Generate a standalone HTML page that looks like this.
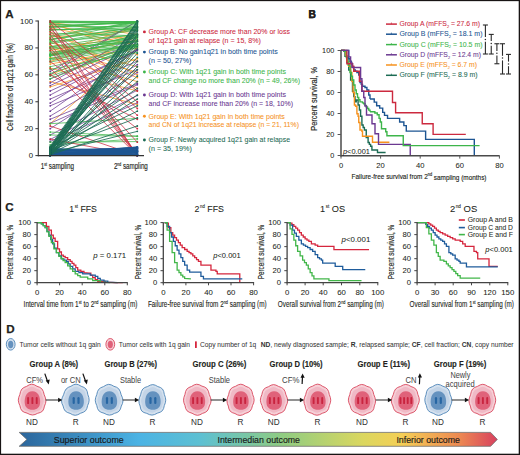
<!DOCTYPE html>
<html><head><meta charset="utf-8"><style>html,body{margin:0;padding:0;background:#fff;width:520px;height:455px;overflow:hidden}svg{display:block}</style></head>
<body><svg width="520" height="455" viewBox="0 0 520 455" font-family="Liberation Sans, sans-serif">
<rect width="520" height="455" fill="#fff"/>
<rect x="0" y="0" width="520" height="1.15" fill="#181414"/><rect x="0" y="0" width="1.1" height="455" fill="#181414"/><rect x="518.7" y="0" width="1.3" height="455" fill="#181414"/><rect x="0" y="453.7" width="520" height="1.3" fill="#181414"/><text x="5.2" y="17.8" font-size="11.6" fill="#231f20" text-anchor="start" font-weight="bold" stroke="#231f20" stroke-width="0.25">A</text><line x1="50.2" y1="42.54" x2="137.3" y2="66.76" stroke="#f6921e" stroke-width="0.75"/><line x1="50.2" y1="57.34" x2="137.3" y2="81.57" stroke="#f6921e" stroke-width="0.75"/><line x1="50.2" y1="64.07" x2="137.3" y2="47.92" stroke="#f6921e" stroke-width="0.75"/><line x1="50.2" y1="81.57" x2="137.3" y2="104.45" stroke="#f6921e" stroke-width="0.75"/><line x1="50.2" y1="86.95" x2="137.3" y2="58.69" stroke="#f6921e" stroke-width="0.75"/><line x1="50.2" y1="123.7" x2="137.3" y2="47.92" stroke="#f6921e" stroke-width="0.75"/><line x1="50.2" y1="27.73" x2="137.3" y2="45.23" stroke="#f6921e" stroke-width="0.75"/><line x1="50.2" y1="34.46" x2="137.3" y2="61.38" stroke="#f6921e" stroke-width="0.75"/><line x1="50.2" y1="37.15" x2="137.3" y2="30.42" stroke="#f6921e" stroke-width="0.75"/><line x1="50.2" y1="47.92" x2="137.3" y2="72.15" stroke="#f6921e" stroke-width="0.75"/><line x1="50.2" y1="50.61" x2="137.3" y2="34.46" stroke="#f6921e" stroke-width="0.75"/><line x1="50.2" y1="25.04" x2="137.3" y2="41.19" stroke="#f6921e" stroke-width="0.75"/><line x1="50.2" y1="68.11" x2="137.3" y2="90.99" stroke="#f6921e" stroke-width="0.75"/><line x1="50.2" y1="74.84" x2="137.3" y2="39.84" stroke="#f6921e" stroke-width="0.75"/><line x1="50.2" y1="31.77" x2="137.3" y2="74.84" stroke="#f6921e" stroke-width="0.75"/><line x1="50.2" y1="54.65" x2="137.3" y2="26.38" stroke="#f6921e" stroke-width="0.75"/><line x1="50.2" y1="39.84" x2="137.3" y2="88.3" stroke="#f6921e" stroke-width="0.75"/><line x1="50.2" y1="61.38" x2="137.3" y2="37.15" stroke="#f6921e" stroke-width="0.75"/><line x1="50.2" y1="22.35" x2="137.3" y2="54.65" stroke="#f6921e" stroke-width="0.75"/><line x1="50.2" y1="45.23" x2="137.3" y2="77.53" stroke="#f6921e" stroke-width="0.75"/><line x1="50.2" y1="22.35" x2="137.3" y2="34.46" stroke="#f6921e" stroke-width="0.75"/><line x1="50.2" y1="71.47" x2="137.3" y2="21.0" stroke="#6b3891" stroke-width="0.75"/><line x1="50.2" y1="78.88" x2="137.3" y2="41.31" stroke="#6b3891" stroke-width="0.75"/><line x1="50.2" y1="82.92" x2="137.3" y2="34.05" stroke="#6b3891" stroke-width="0.75"/><line x1="50.2" y1="95.03" x2="137.3" y2="49.48" stroke="#6b3891" stroke-width="0.75"/><line x1="50.2" y1="99.07" x2="137.3" y2="61.12" stroke="#6b3891" stroke-width="0.75"/><line x1="50.2" y1="103.11" x2="137.3" y2="49.13" stroke="#6b3891" stroke-width="0.75"/><line x1="50.2" y1="105.8" x2="137.3" y2="69.62" stroke="#6b3891" stroke-width="0.75"/><line x1="50.2" y1="116.03" x2="137.3" y2="64.66" stroke="#6b3891" stroke-width="0.75"/><line x1="50.2" y1="119.26" x2="137.3" y2="83.5" stroke="#6b3891" stroke-width="0.75"/><line x1="50.2" y1="135.01" x2="137.3" y2="90.24" stroke="#6b3891" stroke-width="0.75"/><line x1="50.2" y1="141.47" x2="137.3" y2="102.86" stroke="#6b3891" stroke-width="0.75"/><line x1="50.2" y1="90.99" x2="137.3" y2="50.7" stroke="#6b3891" stroke-width="0.75"/><line x1="50.2" y1="111.18" x2="137.3" y2="50.13" stroke="#6b3891" stroke-width="0.75"/><line x1="50.2" y1="128.68" x2="137.3" y2="72.59" stroke="#6b3891" stroke-width="0.75"/><line x1="50.2" y1="85.61" x2="137.3" y2="44.3" stroke="#6b3891" stroke-width="0.75"/><line x1="50.2" y1="74.84" x2="137.3" y2="21.0" stroke="#6b3891" stroke-width="0.75"/><line x1="50.2" y1="123.3" x2="137.3" y2="84.75" stroke="#6b3891" stroke-width="0.75"/><line x1="50.2" y1="139.45" x2="137.3" y2="95.47" stroke="#6b3891" stroke-width="0.75"/><line x1="50.2" y1="21.0" x2="137.3" y2="22.57" stroke="#3db54a" stroke-width="0.75"/><line x1="50.2" y1="30.42" x2="137.3" y2="24.79" stroke="#3db54a" stroke-width="0.75"/><line x1="50.2" y1="39.84" x2="137.3" y2="22.16" stroke="#3db54a" stroke-width="0.75"/><line x1="50.2" y1="46.57" x2="137.3" y2="33.83" stroke="#3db54a" stroke-width="0.75"/><line x1="50.2" y1="54.65" x2="137.3" y2="36.67" stroke="#3db54a" stroke-width="0.75"/><line x1="50.2" y1="58.69" x2="137.3" y2="36.99" stroke="#3db54a" stroke-width="0.75"/><line x1="50.2" y1="62.05" x2="137.3" y2="46.09" stroke="#3db54a" stroke-width="0.75"/><line x1="50.2" y1="73.49" x2="137.3" y2="45.07" stroke="#3db54a" stroke-width="0.75"/><line x1="50.2" y1="78.88" x2="137.3" y2="45.27" stroke="#3db54a" stroke-width="0.75"/><line x1="50.2" y1="123.7" x2="137.3" y2="118.41" stroke="#3db54a" stroke-width="0.75"/><line x1="50.2" y1="132.04" x2="137.3" y2="136.16" stroke="#3db54a" stroke-width="0.75"/><line x1="50.2" y1="135.01" x2="137.3" y2="136.31" stroke="#3db54a" stroke-width="0.75"/><line x1="50.2" y1="23.69" x2="137.3" y2="30.6" stroke="#3db54a" stroke-width="0.75"/><line x1="50.2" y1="26.38" x2="137.3" y2="21.67" stroke="#3db54a" stroke-width="0.75"/><line x1="50.2" y1="27.73" x2="137.3" y2="21.67" stroke="#3db54a" stroke-width="0.75"/><line x1="50.2" y1="33.11" x2="137.3" y2="35.76" stroke="#3db54a" stroke-width="0.75"/><line x1="50.2" y1="35.81" x2="137.3" y2="21.67" stroke="#3db54a" stroke-width="0.75"/><line x1="50.2" y1="37.15" x2="137.3" y2="21.67" stroke="#3db54a" stroke-width="0.75"/><line x1="50.2" y1="42.54" x2="137.3" y2="28.46" stroke="#3db54a" stroke-width="0.75"/><line x1="50.2" y1="43.88" x2="137.3" y2="29.79" stroke="#3db54a" stroke-width="0.75"/><line x1="50.2" y1="49.27" x2="137.3" y2="40.85" stroke="#3db54a" stroke-width="0.75"/><line x1="50.2" y1="51.96" x2="137.3" y2="44.74" stroke="#3db54a" stroke-width="0.75"/><line x1="50.2" y1="53.3" x2="137.3" y2="35.67" stroke="#3db54a" stroke-width="0.75"/><line x1="50.2" y1="56.0" x2="137.3" y2="45.72" stroke="#3db54a" stroke-width="0.75"/><line x1="50.2" y1="60.03" x2="137.3" y2="45.08" stroke="#3db54a" stroke-width="0.75"/><line x1="50.2" y1="66.76" x2="137.3" y2="47.13" stroke="#3db54a" stroke-width="0.75"/><line x1="50.2" y1="69.46" x2="137.3" y2="52.33" stroke="#3db54a" stroke-width="0.75"/><line x1="50.2" y1="76.19" x2="137.3" y2="47.19" stroke="#3db54a" stroke-width="0.75"/><line x1="50.2" y1="142.14" x2="137.3" y2="141.59" stroke="#3db54a" stroke-width="0.75"/><line x1="50.2" y1="144.83" x2="137.3" y2="138.88" stroke="#3db54a" stroke-width="0.75"/><line x1="50.2" y1="39.12" x2="137.3" y2="27.18" stroke="#3db54a" stroke-width="0.75"/><line x1="50.2" y1="39.85" x2="137.3" y2="27.1" stroke="#3db54a" stroke-width="0.75"/><line x1="50.2" y1="41.45" x2="137.3" y2="35.06" stroke="#3db54a" stroke-width="0.75"/><line x1="50.2" y1="21.09" x2="137.3" y2="21.67" stroke="#3db54a" stroke-width="0.75"/><line x1="50.2" y1="27.02" x2="137.3" y2="21.67" stroke="#3db54a" stroke-width="0.75"/><line x1="50.2" y1="46.81" x2="137.3" y2="38.38" stroke="#3db54a" stroke-width="0.75"/><line x1="50.2" y1="47.79" x2="137.3" y2="41.83" stroke="#3db54a" stroke-width="0.75"/><line x1="50.2" y1="29.81" x2="137.3" y2="27.51" stroke="#3db54a" stroke-width="0.75"/><line x1="50.2" y1="26.78" x2="137.3" y2="26.41" stroke="#3db54a" stroke-width="0.75"/><line x1="50.2" y1="22.58" x2="137.3" y2="21.67" stroke="#3db54a" stroke-width="0.75"/><line x1="50.2" y1="58.67" x2="137.3" y2="44.09" stroke="#3db54a" stroke-width="0.75"/><line x1="50.2" y1="24.38" x2="137.3" y2="23.76" stroke="#3db54a" stroke-width="0.75"/><line x1="50.2" y1="21.74" x2="137.3" y2="23.94" stroke="#3db54a" stroke-width="0.75"/><line x1="50.2" y1="55.94" x2="137.3" y2="34.95" stroke="#3db54a" stroke-width="0.75"/><line x1="50.2" y1="29.35" x2="137.3" y2="29.77" stroke="#3db54a" stroke-width="0.75"/><line x1="50.2" y1="55.4" x2="137.3" y2="40.31" stroke="#3db54a" stroke-width="0.75"/><line x1="50.2" y1="22.35" x2="137.3" y2="21.67" stroke="#3db54a" stroke-width="0.75"/><line x1="50.2" y1="54.24" x2="137.3" y2="41.41" stroke="#3db54a" stroke-width="0.75"/><line x1="50.2" y1="54.88" x2="137.3" y2="45.21" stroke="#3db54a" stroke-width="0.75"/><line x1="50.2" y1="22.35" x2="137.3" y2="155.6" stroke="#cc2a3f" stroke-width="0.75"/><line x1="50.2" y1="26.38" x2="137.3" y2="155.6" stroke="#cc2a3f" stroke-width="0.75"/><line x1="50.2" y1="34.46" x2="137.3" y2="155.6" stroke="#cc2a3f" stroke-width="0.75"/><line x1="50.2" y1="43.88" x2="137.3" y2="155.6" stroke="#cc2a3f" stroke-width="0.75"/><line x1="50.2" y1="50.61" x2="137.3" y2="155.6" stroke="#cc2a3f" stroke-width="0.75"/><line x1="50.2" y1="125.99" x2="137.3" y2="155.6" stroke="#cc2a3f" stroke-width="0.75"/><line x1="50.2" y1="139.04" x2="137.3" y2="155.6" stroke="#cc2a3f" stroke-width="0.75"/><line x1="50.2" y1="29.08" x2="137.3" y2="101.76" stroke="#cc2a3f" stroke-width="0.75"/><line x1="50.2" y1="38.5" x2="137.3" y2="115.22" stroke="#cc2a3f" stroke-width="0.75"/><line x1="50.2" y1="74.84" x2="137.3" y2="119.26" stroke="#cc2a3f" stroke-width="0.75"/><line x1="50.2" y1="31.77" x2="137.3" y2="108.49" stroke="#cc2a3f" stroke-width="0.75"/><line x1="50.2" y1="61.38" x2="137.3" y2="128.68" stroke="#cc2a3f" stroke-width="0.75"/><line x1="50.2" y1="21.0" x2="137.3" y2="90.99" stroke="#cc2a3f" stroke-width="0.75"/><line x1="50.2" y1="47.92" x2="137.3" y2="142.14" stroke="#cc2a3f" stroke-width="0.75"/><line x1="50.2" y1="68.11" x2="137.3" y2="155.6" stroke="#cc2a3f" stroke-width="0.75"/><line x1="50.2" y1="150.02" x2="137.3" y2="151.3" stroke="#1d5592" stroke-width="0.75"/><line x1="50.2" y1="155.48" x2="137.3" y2="147.0" stroke="#1d5592" stroke-width="0.75"/><line x1="50.2" y1="155.14" x2="137.3" y2="154.6" stroke="#1d5592" stroke-width="0.75"/><line x1="50.2" y1="150.95" x2="137.3" y2="154.12" stroke="#1d5592" stroke-width="0.75"/><line x1="50.2" y1="154.77" x2="137.3" y2="155.47" stroke="#1d5592" stroke-width="0.75"/><line x1="50.2" y1="155.5" x2="137.3" y2="151.91" stroke="#1d5592" stroke-width="0.75"/><line x1="50.2" y1="155.02" x2="137.3" y2="151.72" stroke="#1d5592" stroke-width="0.75"/><line x1="50.2" y1="154.35" x2="137.3" y2="153.13" stroke="#1d5592" stroke-width="0.75"/><line x1="50.2" y1="148.73" x2="137.3" y2="152.86" stroke="#1d5592" stroke-width="0.75"/><line x1="50.2" y1="152.87" x2="137.3" y2="148.64" stroke="#1d5592" stroke-width="0.75"/><line x1="50.2" y1="155.25" x2="137.3" y2="155.16" stroke="#1d5592" stroke-width="0.75"/><line x1="50.2" y1="149.37" x2="137.3" y2="149.26" stroke="#1d5592" stroke-width="0.75"/><line x1="50.2" y1="154.99" x2="137.3" y2="154.99" stroke="#1d5592" stroke-width="0.75"/><line x1="50.2" y1="151.3" x2="137.3" y2="147.67" stroke="#1d5592" stroke-width="0.75"/><line x1="50.2" y1="155.2" x2="137.3" y2="147.54" stroke="#1d5592" stroke-width="0.75"/><line x1="50.2" y1="149.69" x2="137.3" y2="151.7" stroke="#1d5592" stroke-width="0.75"/><line x1="50.2" y1="154.04" x2="137.3" y2="155.37" stroke="#1d5592" stroke-width="0.75"/><line x1="50.2" y1="155.58" x2="137.3" y2="147.37" stroke="#1d5592" stroke-width="0.75"/><line x1="50.2" y1="155.04" x2="137.3" y2="150.6" stroke="#1d5592" stroke-width="0.75"/><line x1="50.2" y1="154.96" x2="137.3" y2="149.18" stroke="#1d5592" stroke-width="0.75"/><line x1="50.2" y1="152.68" x2="137.3" y2="154.37" stroke="#1d5592" stroke-width="0.75"/><line x1="50.2" y1="155.28" x2="137.3" y2="150.42" stroke="#1d5592" stroke-width="0.75"/><line x1="50.2" y1="155.54" x2="137.3" y2="154.78" stroke="#1d5592" stroke-width="0.75"/><line x1="50.2" y1="153.0" x2="137.3" y2="148.82" stroke="#1d5592" stroke-width="0.75"/><line x1="50.2" y1="152.52" x2="137.3" y2="154.46" stroke="#1d5592" stroke-width="0.75"/><line x1="50.2" y1="149.26" x2="137.3" y2="154.91" stroke="#1d5592" stroke-width="0.75"/><line x1="50.2" y1="155.6" x2="137.3" y2="154.53" stroke="#1d5592" stroke-width="0.75"/><line x1="50.2" y1="153.87" x2="137.3" y2="155.5" stroke="#1d5592" stroke-width="0.75"/><line x1="50.2" y1="155.27" x2="137.3" y2="153.83" stroke="#1d5592" stroke-width="0.75"/><line x1="50.2" y1="152.89" x2="137.3" y2="155.26" stroke="#1d5592" stroke-width="0.75"/><line x1="50.2" y1="154.41" x2="137.3" y2="148.33" stroke="#1d5592" stroke-width="0.75"/><line x1="50.2" y1="148.45" x2="137.3" y2="151.13" stroke="#1d5592" stroke-width="0.75"/><line x1="50.2" y1="151.79" x2="137.3" y2="151.9" stroke="#1d5592" stroke-width="0.75"/><line x1="50.2" y1="155.38" x2="137.3" y2="155.56" stroke="#1d5592" stroke-width="0.75"/><line x1="50.2" y1="155.59" x2="137.3" y2="148.07" stroke="#1d5592" stroke-width="0.75"/><line x1="50.2" y1="151.69" x2="137.3" y2="147.37" stroke="#1d5592" stroke-width="0.75"/><line x1="50.2" y1="155.59" x2="137.3" y2="151.36" stroke="#1d5592" stroke-width="0.75"/><line x1="50.2" y1="153.61" x2="137.3" y2="150.31" stroke="#1d5592" stroke-width="0.75"/><line x1="50.2" y1="154.65" x2="137.3" y2="146.86" stroke="#1d5592" stroke-width="0.75"/><line x1="50.2" y1="155.53" x2="137.3" y2="152.28" stroke="#1d5592" stroke-width="0.75"/><line x1="50.2" y1="151.33" x2="137.3" y2="148.21" stroke="#1d5592" stroke-width="0.75"/><line x1="50.2" y1="151.32" x2="137.3" y2="150.61" stroke="#1d5592" stroke-width="0.75"/><line x1="50.2" y1="150.72" x2="137.3" y2="148.01" stroke="#1d5592" stroke-width="0.75"/><line x1="50.2" y1="154.47" x2="137.3" y2="150.82" stroke="#1d5592" stroke-width="0.75"/><line x1="50.2" y1="149.47" x2="137.3" y2="148.58" stroke="#1d5592" stroke-width="0.75"/><line x1="50.2" y1="154.07" x2="137.3" y2="149.59" stroke="#1d5592" stroke-width="0.75"/><line x1="50.2" y1="149.92" x2="137.3" y2="152.01" stroke="#1d5592" stroke-width="0.75"/><line x1="50.2" y1="152.42" x2="137.3" y2="153.72" stroke="#1d5592" stroke-width="0.75"/><line x1="50.2" y1="152.8" x2="137.3" y2="151.64" stroke="#1d5592" stroke-width="0.75"/><line x1="50.2" y1="155.52" x2="137.3" y2="151.32" stroke="#1d5592" stroke-width="0.75"/><line x1="50.2" y1="146.27" x2="137.3" y2="21.0" stroke="#1c6b54" stroke-width="0.85"/><line x1="50.2" y1="147.82" x2="137.3" y2="22.35" stroke="#1c6b54" stroke-width="0.85"/><line x1="50.2" y1="149.75" x2="137.3" y2="23.69" stroke="#1c6b54" stroke-width="0.85"/><line x1="50.2" y1="153.32" x2="137.3" y2="25.04" stroke="#1c6b54" stroke-width="0.85"/><line x1="50.2" y1="149.66" x2="137.3" y2="26.38" stroke="#1c6b54" stroke-width="0.85"/><line x1="50.2" y1="151.43" x2="137.3" y2="27.73" stroke="#1c6b54" stroke-width="0.85"/><line x1="50.2" y1="152.85" x2="137.3" y2="29.08" stroke="#1c6b54" stroke-width="0.85"/><line x1="50.2" y1="148.37" x2="137.3" y2="30.42" stroke="#1c6b54" stroke-width="0.85"/><line x1="50.2" y1="155.37" x2="137.3" y2="31.77" stroke="#1c6b54" stroke-width="0.85"/><line x1="50.2" y1="149.48" x2="137.3" y2="34.46" stroke="#1c6b54" stroke-width="0.85"/><line x1="50.2" y1="155.55" x2="137.3" y2="35.81" stroke="#1c6b54" stroke-width="0.85"/><line x1="50.2" y1="151.21" x2="137.3" y2="37.15" stroke="#1c6b54" stroke-width="0.85"/><line x1="50.2" y1="152.46" x2="137.3" y2="39.84" stroke="#1c6b54" stroke-width="0.85"/><line x1="50.2" y1="154.56" x2="137.3" y2="41.19" stroke="#1c6b54" stroke-width="0.85"/><line x1="50.2" y1="150.1" x2="137.3" y2="43.88" stroke="#1c6b54" stroke-width="0.85"/><line x1="50.2" y1="152.3" x2="137.3" y2="46.57" stroke="#1c6b54" stroke-width="0.85"/><line x1="50.2" y1="151.06" x2="137.3" y2="49.27" stroke="#1c6b54" stroke-width="0.85"/><line x1="50.2" y1="147.28" x2="137.3" y2="53.3" stroke="#1c6b54" stroke-width="0.85"/><line x1="50.2" y1="154.38" x2="137.3" y2="57.34" stroke="#1c6b54" stroke-width="0.85"/><line x1="50.2" y1="155.59" x2="137.3" y2="61.38" stroke="#1c6b54" stroke-width="0.85"/><line x1="50.2" y1="154.04" x2="137.3" y2="66.76" stroke="#1c6b54" stroke-width="0.85"/><line x1="50.2" y1="150.34" x2="137.3" y2="69.86" stroke="#1c6b54" stroke-width="0.85"/><line x1="50.2" y1="154.74" x2="137.3" y2="76.19" stroke="#1c6b54" stroke-width="0.85"/><line x1="50.2" y1="154.94" x2="137.3" y2="81.57" stroke="#1c6b54" stroke-width="0.85"/><line x1="50.2" y1="147.48" x2="137.3" y2="88.3" stroke="#1c6b54" stroke-width="0.85"/><line x1="50.2" y1="150.55" x2="137.3" y2="95.03" stroke="#1c6b54" stroke-width="0.85"/><line x1="50.2" y1="152.83" x2="137.3" y2="99.07" stroke="#1c6b54" stroke-width="0.85"/><line x1="50.2" y1="147.67" x2="137.3" y2="105.8" stroke="#1c6b54" stroke-width="0.85"/><line x1="50.2" y1="153.84" x2="137.3" y2="111.18" stroke="#1c6b54" stroke-width="0.85"/><line x1="50.2" y1="150.48" x2="137.3" y2="117.91" stroke="#1c6b54" stroke-width="0.85"/><line x1="50.2" y1="154.77" x2="137.3" y2="125.99" stroke="#1c6b54" stroke-width="0.85"/><line x1="50.2" y1="152.93" x2="137.3" y2="131.37" stroke="#1c6b54" stroke-width="0.85"/><line x1="50.2" y1="148.78" x2="137.3" y2="34.46" stroke="#1c6b54" stroke-width="0.85"/><line x1="50.2" y1="147.36" x2="137.3" y2="27.73" stroke="#1c6b54" stroke-width="0.85"/><line x1="50.2" y1="147.82" x2="137.3" y2="21.67" stroke="#1c6b54" stroke-width="0.85"/><circle cx="50.2" cy="42.54" r="0.9" fill="#f6921e"/><circle cx="137.3" cy="66.76" r="0.9" fill="#f6921e"/><circle cx="50.2" cy="57.34" r="0.9" fill="#f6921e"/><circle cx="137.3" cy="81.57" r="0.9" fill="#f6921e"/><circle cx="50.2" cy="64.07" r="0.9" fill="#f6921e"/><circle cx="137.3" cy="47.92" r="0.9" fill="#f6921e"/><circle cx="50.2" cy="81.57" r="0.9" fill="#f6921e"/><circle cx="137.3" cy="104.45" r="0.9" fill="#f6921e"/><circle cx="50.2" cy="86.95" r="0.9" fill="#f6921e"/><circle cx="137.3" cy="58.69" r="0.9" fill="#f6921e"/><circle cx="50.2" cy="123.70" r="0.9" fill="#f6921e"/><circle cx="137.3" cy="47.92" r="0.9" fill="#f6921e"/><circle cx="50.2" cy="27.73" r="0.9" fill="#f6921e"/><circle cx="137.3" cy="45.23" r="0.9" fill="#f6921e"/><circle cx="50.2" cy="34.46" r="0.9" fill="#f6921e"/><circle cx="137.3" cy="61.38" r="0.9" fill="#f6921e"/><circle cx="50.2" cy="37.15" r="0.9" fill="#f6921e"/><circle cx="137.3" cy="30.42" r="0.9" fill="#f6921e"/><circle cx="50.2" cy="47.92" r="0.9" fill="#f6921e"/><circle cx="137.3" cy="72.15" r="0.9" fill="#f6921e"/><circle cx="50.2" cy="50.61" r="0.9" fill="#f6921e"/><circle cx="137.3" cy="34.46" r="0.9" fill="#f6921e"/><circle cx="50.2" cy="25.04" r="0.9" fill="#f6921e"/><circle cx="137.3" cy="41.19" r="0.9" fill="#f6921e"/><circle cx="50.2" cy="68.11" r="0.9" fill="#f6921e"/><circle cx="137.3" cy="90.99" r="0.9" fill="#f6921e"/><circle cx="50.2" cy="74.84" r="0.9" fill="#f6921e"/><circle cx="137.3" cy="39.84" r="0.9" fill="#f6921e"/><circle cx="50.2" cy="31.77" r="0.9" fill="#f6921e"/><circle cx="137.3" cy="74.84" r="0.9" fill="#f6921e"/><circle cx="50.2" cy="54.65" r="0.9" fill="#f6921e"/><circle cx="137.3" cy="26.38" r="0.9" fill="#f6921e"/><circle cx="50.2" cy="39.84" r="0.9" fill="#f6921e"/><circle cx="137.3" cy="88.30" r="0.9" fill="#f6921e"/><circle cx="50.2" cy="61.38" r="0.9" fill="#f6921e"/><circle cx="137.3" cy="37.15" r="0.9" fill="#f6921e"/><circle cx="50.2" cy="22.35" r="0.9" fill="#f6921e"/><circle cx="137.3" cy="54.65" r="0.9" fill="#f6921e"/><circle cx="50.2" cy="45.23" r="0.9" fill="#f6921e"/><circle cx="137.3" cy="77.53" r="0.9" fill="#f6921e"/><circle cx="50.2" cy="22.35" r="0.9" fill="#f6921e"/><circle cx="137.3" cy="34.46" r="0.9" fill="#f6921e"/><circle cx="50.2" cy="71.47" r="0.9" fill="#6b3891"/><circle cx="137.3" cy="21.00" r="0.9" fill="#6b3891"/><circle cx="50.2" cy="78.88" r="0.9" fill="#6b3891"/><circle cx="137.3" cy="41.31" r="0.9" fill="#6b3891"/><circle cx="50.2" cy="82.92" r="0.9" fill="#6b3891"/><circle cx="137.3" cy="34.05" r="0.9" fill="#6b3891"/><circle cx="50.2" cy="95.03" r="0.9" fill="#6b3891"/><circle cx="137.3" cy="49.48" r="0.9" fill="#6b3891"/><circle cx="50.2" cy="99.07" r="0.9" fill="#6b3891"/><circle cx="137.3" cy="61.12" r="0.9" fill="#6b3891"/><circle cx="50.2" cy="103.11" r="0.9" fill="#6b3891"/><circle cx="137.3" cy="49.13" r="0.9" fill="#6b3891"/><circle cx="50.2" cy="105.80" r="0.9" fill="#6b3891"/><circle cx="137.3" cy="69.62" r="0.9" fill="#6b3891"/><circle cx="50.2" cy="116.03" r="0.9" fill="#6b3891"/><circle cx="137.3" cy="64.66" r="0.9" fill="#6b3891"/><circle cx="50.2" cy="119.26" r="0.9" fill="#6b3891"/><circle cx="137.3" cy="83.50" r="0.9" fill="#6b3891"/><circle cx="50.2" cy="135.01" r="0.9" fill="#6b3891"/><circle cx="137.3" cy="90.24" r="0.9" fill="#6b3891"/><circle cx="50.2" cy="141.47" r="0.9" fill="#6b3891"/><circle cx="137.3" cy="102.86" r="0.9" fill="#6b3891"/><circle cx="50.2" cy="90.99" r="0.9" fill="#6b3891"/><circle cx="137.3" cy="50.70" r="0.9" fill="#6b3891"/><circle cx="50.2" cy="111.18" r="0.9" fill="#6b3891"/><circle cx="137.3" cy="50.13" r="0.9" fill="#6b3891"/><circle cx="50.2" cy="128.68" r="0.9" fill="#6b3891"/><circle cx="137.3" cy="72.59" r="0.9" fill="#6b3891"/><circle cx="50.2" cy="85.61" r="0.9" fill="#6b3891"/><circle cx="137.3" cy="44.30" r="0.9" fill="#6b3891"/><circle cx="50.2" cy="74.84" r="0.9" fill="#6b3891"/><circle cx="137.3" cy="21.00" r="0.9" fill="#6b3891"/><circle cx="50.2" cy="123.30" r="0.9" fill="#6b3891"/><circle cx="137.3" cy="84.75" r="0.9" fill="#6b3891"/><circle cx="50.2" cy="139.45" r="0.9" fill="#6b3891"/><circle cx="137.3" cy="95.47" r="0.9" fill="#6b3891"/><circle cx="50.2" cy="21.00" r="0.9" fill="#3db54a"/><circle cx="137.3" cy="22.57" r="0.9" fill="#3db54a"/><circle cx="50.2" cy="30.42" r="0.9" fill="#3db54a"/><circle cx="137.3" cy="24.79" r="0.9" fill="#3db54a"/><circle cx="50.2" cy="39.84" r="0.9" fill="#3db54a"/><circle cx="137.3" cy="22.16" r="0.9" fill="#3db54a"/><circle cx="50.2" cy="46.57" r="0.9" fill="#3db54a"/><circle cx="137.3" cy="33.83" r="0.9" fill="#3db54a"/><circle cx="50.2" cy="54.65" r="0.9" fill="#3db54a"/><circle cx="137.3" cy="36.67" r="0.9" fill="#3db54a"/><circle cx="50.2" cy="58.69" r="0.9" fill="#3db54a"/><circle cx="137.3" cy="36.99" r="0.9" fill="#3db54a"/><circle cx="50.2" cy="62.05" r="0.9" fill="#3db54a"/><circle cx="137.3" cy="46.09" r="0.9" fill="#3db54a"/><circle cx="50.2" cy="73.49" r="0.9" fill="#3db54a"/><circle cx="137.3" cy="45.07" r="0.9" fill="#3db54a"/><circle cx="50.2" cy="78.88" r="0.9" fill="#3db54a"/><circle cx="137.3" cy="45.27" r="0.9" fill="#3db54a"/><circle cx="50.2" cy="123.70" r="0.9" fill="#3db54a"/><circle cx="137.3" cy="118.41" r="0.9" fill="#3db54a"/><circle cx="50.2" cy="132.04" r="0.9" fill="#3db54a"/><circle cx="137.3" cy="136.16" r="0.9" fill="#3db54a"/><circle cx="50.2" cy="135.01" r="0.9" fill="#3db54a"/><circle cx="137.3" cy="136.31" r="0.9" fill="#3db54a"/><circle cx="50.2" cy="23.69" r="0.9" fill="#3db54a"/><circle cx="137.3" cy="30.60" r="0.9" fill="#3db54a"/><circle cx="50.2" cy="26.38" r="0.9" fill="#3db54a"/><circle cx="137.3" cy="21.67" r="0.9" fill="#3db54a"/><circle cx="50.2" cy="27.73" r="0.9" fill="#3db54a"/><circle cx="137.3" cy="21.67" r="0.9" fill="#3db54a"/><circle cx="50.2" cy="33.11" r="0.9" fill="#3db54a"/><circle cx="137.3" cy="35.76" r="0.9" fill="#3db54a"/><circle cx="50.2" cy="35.81" r="0.9" fill="#3db54a"/><circle cx="137.3" cy="21.67" r="0.9" fill="#3db54a"/><circle cx="50.2" cy="37.15" r="0.9" fill="#3db54a"/><circle cx="137.3" cy="21.67" r="0.9" fill="#3db54a"/><circle cx="50.2" cy="42.54" r="0.9" fill="#3db54a"/><circle cx="137.3" cy="28.46" r="0.9" fill="#3db54a"/><circle cx="50.2" cy="43.88" r="0.9" fill="#3db54a"/><circle cx="137.3" cy="29.79" r="0.9" fill="#3db54a"/><circle cx="50.2" cy="49.27" r="0.9" fill="#3db54a"/><circle cx="137.3" cy="40.85" r="0.9" fill="#3db54a"/><circle cx="50.2" cy="51.96" r="0.9" fill="#3db54a"/><circle cx="137.3" cy="44.74" r="0.9" fill="#3db54a"/><circle cx="50.2" cy="53.30" r="0.9" fill="#3db54a"/><circle cx="137.3" cy="35.67" r="0.9" fill="#3db54a"/><circle cx="50.2" cy="56.00" r="0.9" fill="#3db54a"/><circle cx="137.3" cy="45.72" r="0.9" fill="#3db54a"/><circle cx="50.2" cy="60.03" r="0.9" fill="#3db54a"/><circle cx="137.3" cy="45.08" r="0.9" fill="#3db54a"/><circle cx="50.2" cy="66.76" r="0.9" fill="#3db54a"/><circle cx="137.3" cy="47.13" r="0.9" fill="#3db54a"/><circle cx="50.2" cy="69.46" r="0.9" fill="#3db54a"/><circle cx="137.3" cy="52.33" r="0.9" fill="#3db54a"/><circle cx="50.2" cy="76.19" r="0.9" fill="#3db54a"/><circle cx="137.3" cy="47.19" r="0.9" fill="#3db54a"/><circle cx="50.2" cy="142.14" r="0.9" fill="#3db54a"/><circle cx="137.3" cy="141.59" r="0.9" fill="#3db54a"/><circle cx="50.2" cy="144.83" r="0.9" fill="#3db54a"/><circle cx="137.3" cy="138.88" r="0.9" fill="#3db54a"/><circle cx="50.2" cy="39.12" r="0.9" fill="#3db54a"/><circle cx="137.3" cy="27.18" r="0.9" fill="#3db54a"/><circle cx="50.2" cy="39.85" r="0.9" fill="#3db54a"/><circle cx="137.3" cy="27.10" r="0.9" fill="#3db54a"/><circle cx="50.2" cy="41.45" r="0.9" fill="#3db54a"/><circle cx="137.3" cy="35.06" r="0.9" fill="#3db54a"/><circle cx="50.2" cy="21.09" r="0.9" fill="#3db54a"/><circle cx="137.3" cy="21.67" r="0.9" fill="#3db54a"/><circle cx="50.2" cy="27.02" r="0.9" fill="#3db54a"/><circle cx="137.3" cy="21.67" r="0.9" fill="#3db54a"/><circle cx="50.2" cy="46.81" r="0.9" fill="#3db54a"/><circle cx="137.3" cy="38.38" r="0.9" fill="#3db54a"/><circle cx="50.2" cy="47.79" r="0.9" fill="#3db54a"/><circle cx="137.3" cy="41.83" r="0.9" fill="#3db54a"/><circle cx="50.2" cy="29.81" r="0.9" fill="#3db54a"/><circle cx="137.3" cy="27.51" r="0.9" fill="#3db54a"/><circle cx="50.2" cy="26.78" r="0.9" fill="#3db54a"/><circle cx="137.3" cy="26.41" r="0.9" fill="#3db54a"/><circle cx="50.2" cy="22.58" r="0.9" fill="#3db54a"/><circle cx="137.3" cy="21.67" r="0.9" fill="#3db54a"/><circle cx="50.2" cy="58.67" r="0.9" fill="#3db54a"/><circle cx="137.3" cy="44.09" r="0.9" fill="#3db54a"/><circle cx="50.2" cy="24.38" r="0.9" fill="#3db54a"/><circle cx="137.3" cy="23.76" r="0.9" fill="#3db54a"/><circle cx="50.2" cy="21.74" r="0.9" fill="#3db54a"/><circle cx="137.3" cy="23.94" r="0.9" fill="#3db54a"/><circle cx="50.2" cy="55.94" r="0.9" fill="#3db54a"/><circle cx="137.3" cy="34.95" r="0.9" fill="#3db54a"/><circle cx="50.2" cy="29.35" r="0.9" fill="#3db54a"/><circle cx="137.3" cy="29.77" r="0.9" fill="#3db54a"/><circle cx="50.2" cy="55.40" r="0.9" fill="#3db54a"/><circle cx="137.3" cy="40.31" r="0.9" fill="#3db54a"/><circle cx="50.2" cy="22.35" r="0.9" fill="#3db54a"/><circle cx="137.3" cy="21.67" r="0.9" fill="#3db54a"/><circle cx="50.2" cy="54.24" r="0.9" fill="#3db54a"/><circle cx="137.3" cy="41.41" r="0.9" fill="#3db54a"/><circle cx="50.2" cy="54.88" r="0.9" fill="#3db54a"/><circle cx="137.3" cy="45.21" r="0.9" fill="#3db54a"/><circle cx="50.2" cy="22.35" r="0.9" fill="#cc2a3f"/><circle cx="137.3" cy="155.60" r="0.9" fill="#cc2a3f"/><circle cx="50.2" cy="26.38" r="0.9" fill="#cc2a3f"/><circle cx="137.3" cy="155.60" r="0.9" fill="#cc2a3f"/><circle cx="50.2" cy="34.46" r="0.9" fill="#cc2a3f"/><circle cx="137.3" cy="155.60" r="0.9" fill="#cc2a3f"/><circle cx="50.2" cy="43.88" r="0.9" fill="#cc2a3f"/><circle cx="137.3" cy="155.60" r="0.9" fill="#cc2a3f"/><circle cx="50.2" cy="50.61" r="0.9" fill="#cc2a3f"/><circle cx="137.3" cy="155.60" r="0.9" fill="#cc2a3f"/><circle cx="50.2" cy="125.99" r="0.9" fill="#cc2a3f"/><circle cx="137.3" cy="155.60" r="0.9" fill="#cc2a3f"/><circle cx="50.2" cy="139.04" r="0.9" fill="#cc2a3f"/><circle cx="137.3" cy="155.60" r="0.9" fill="#cc2a3f"/><circle cx="50.2" cy="29.08" r="0.9" fill="#cc2a3f"/><circle cx="137.3" cy="101.76" r="0.9" fill="#cc2a3f"/><circle cx="50.2" cy="38.50" r="0.9" fill="#cc2a3f"/><circle cx="137.3" cy="115.22" r="0.9" fill="#cc2a3f"/><circle cx="50.2" cy="74.84" r="0.9" fill="#cc2a3f"/><circle cx="137.3" cy="119.26" r="0.9" fill="#cc2a3f"/><circle cx="50.2" cy="31.77" r="0.9" fill="#cc2a3f"/><circle cx="137.3" cy="108.49" r="0.9" fill="#cc2a3f"/><circle cx="50.2" cy="61.38" r="0.9" fill="#cc2a3f"/><circle cx="137.3" cy="128.68" r="0.9" fill="#cc2a3f"/><circle cx="50.2" cy="21.00" r="0.9" fill="#cc2a3f"/><circle cx="137.3" cy="90.99" r="0.9" fill="#cc2a3f"/><circle cx="50.2" cy="47.92" r="0.9" fill="#cc2a3f"/><circle cx="137.3" cy="142.14" r="0.9" fill="#cc2a3f"/><circle cx="50.2" cy="68.11" r="0.9" fill="#cc2a3f"/><circle cx="137.3" cy="155.60" r="0.9" fill="#cc2a3f"/><circle cx="50.2" cy="150.02" r="0.9" fill="#1d5592"/><circle cx="137.3" cy="151.30" r="0.9" fill="#1d5592"/><circle cx="50.2" cy="155.48" r="0.9" fill="#1d5592"/><circle cx="137.3" cy="147.00" r="0.9" fill="#1d5592"/><circle cx="50.2" cy="155.14" r="0.9" fill="#1d5592"/><circle cx="137.3" cy="154.60" r="0.9" fill="#1d5592"/><circle cx="50.2" cy="150.95" r="0.9" fill="#1d5592"/><circle cx="137.3" cy="154.12" r="0.9" fill="#1d5592"/><circle cx="50.2" cy="154.77" r="0.9" fill="#1d5592"/><circle cx="137.3" cy="155.47" r="0.9" fill="#1d5592"/><circle cx="50.2" cy="155.50" r="0.9" fill="#1d5592"/><circle cx="137.3" cy="151.91" r="0.9" fill="#1d5592"/><circle cx="50.2" cy="155.02" r="0.9" fill="#1d5592"/><circle cx="137.3" cy="151.72" r="0.9" fill="#1d5592"/><circle cx="50.2" cy="154.35" r="0.9" fill="#1d5592"/><circle cx="137.3" cy="153.13" r="0.9" fill="#1d5592"/><circle cx="50.2" cy="148.73" r="0.9" fill="#1d5592"/><circle cx="137.3" cy="152.86" r="0.9" fill="#1d5592"/><circle cx="50.2" cy="152.87" r="0.9" fill="#1d5592"/><circle cx="137.3" cy="148.64" r="0.9" fill="#1d5592"/><circle cx="50.2" cy="155.25" r="0.9" fill="#1d5592"/><circle cx="137.3" cy="155.16" r="0.9" fill="#1d5592"/><circle cx="50.2" cy="149.37" r="0.9" fill="#1d5592"/><circle cx="137.3" cy="149.26" r="0.9" fill="#1d5592"/><circle cx="50.2" cy="154.99" r="0.9" fill="#1d5592"/><circle cx="137.3" cy="154.99" r="0.9" fill="#1d5592"/><circle cx="50.2" cy="151.30" r="0.9" fill="#1d5592"/><circle cx="137.3" cy="147.67" r="0.9" fill="#1d5592"/><circle cx="50.2" cy="155.20" r="0.9" fill="#1d5592"/><circle cx="137.3" cy="147.54" r="0.9" fill="#1d5592"/><circle cx="50.2" cy="149.69" r="0.9" fill="#1d5592"/><circle cx="137.3" cy="151.70" r="0.9" fill="#1d5592"/><circle cx="50.2" cy="154.04" r="0.9" fill="#1d5592"/><circle cx="137.3" cy="155.37" r="0.9" fill="#1d5592"/><circle cx="50.2" cy="155.58" r="0.9" fill="#1d5592"/><circle cx="137.3" cy="147.37" r="0.9" fill="#1d5592"/><circle cx="50.2" cy="155.04" r="0.9" fill="#1d5592"/><circle cx="137.3" cy="150.60" r="0.9" fill="#1d5592"/><circle cx="50.2" cy="154.96" r="0.9" fill="#1d5592"/><circle cx="137.3" cy="149.18" r="0.9" fill="#1d5592"/><circle cx="50.2" cy="152.68" r="0.9" fill="#1d5592"/><circle cx="137.3" cy="154.37" r="0.9" fill="#1d5592"/><circle cx="50.2" cy="155.28" r="0.9" fill="#1d5592"/><circle cx="137.3" cy="150.42" r="0.9" fill="#1d5592"/><circle cx="50.2" cy="155.54" r="0.9" fill="#1d5592"/><circle cx="137.3" cy="154.78" r="0.9" fill="#1d5592"/><circle cx="50.2" cy="153.00" r="0.9" fill="#1d5592"/><circle cx="137.3" cy="148.82" r="0.9" fill="#1d5592"/><circle cx="50.2" cy="152.52" r="0.9" fill="#1d5592"/><circle cx="137.3" cy="154.46" r="0.9" fill="#1d5592"/><circle cx="50.2" cy="149.26" r="0.9" fill="#1d5592"/><circle cx="137.3" cy="154.91" r="0.9" fill="#1d5592"/><circle cx="50.2" cy="155.60" r="0.9" fill="#1d5592"/><circle cx="137.3" cy="154.53" r="0.9" fill="#1d5592"/><circle cx="50.2" cy="153.87" r="0.9" fill="#1d5592"/><circle cx="137.3" cy="155.50" r="0.9" fill="#1d5592"/><circle cx="50.2" cy="155.27" r="0.9" fill="#1d5592"/><circle cx="137.3" cy="153.83" r="0.9" fill="#1d5592"/><circle cx="50.2" cy="152.89" r="0.9" fill="#1d5592"/><circle cx="137.3" cy="155.26" r="0.9" fill="#1d5592"/><circle cx="50.2" cy="154.41" r="0.9" fill="#1d5592"/><circle cx="137.3" cy="148.33" r="0.9" fill="#1d5592"/><circle cx="50.2" cy="148.45" r="0.9" fill="#1d5592"/><circle cx="137.3" cy="151.13" r="0.9" fill="#1d5592"/><circle cx="50.2" cy="151.79" r="0.9" fill="#1d5592"/><circle cx="137.3" cy="151.90" r="0.9" fill="#1d5592"/><circle cx="50.2" cy="155.38" r="0.9" fill="#1d5592"/><circle cx="137.3" cy="155.56" r="0.9" fill="#1d5592"/><circle cx="50.2" cy="155.59" r="0.9" fill="#1d5592"/><circle cx="137.3" cy="148.07" r="0.9" fill="#1d5592"/><circle cx="50.2" cy="151.69" r="0.9" fill="#1d5592"/><circle cx="137.3" cy="147.37" r="0.9" fill="#1d5592"/><circle cx="50.2" cy="155.59" r="0.9" fill="#1d5592"/><circle cx="137.3" cy="151.36" r="0.9" fill="#1d5592"/><circle cx="50.2" cy="153.61" r="0.9" fill="#1d5592"/><circle cx="137.3" cy="150.31" r="0.9" fill="#1d5592"/><circle cx="50.2" cy="154.65" r="0.9" fill="#1d5592"/><circle cx="137.3" cy="146.86" r="0.9" fill="#1d5592"/><circle cx="50.2" cy="155.53" r="0.9" fill="#1d5592"/><circle cx="137.3" cy="152.28" r="0.9" fill="#1d5592"/><circle cx="50.2" cy="151.33" r="0.9" fill="#1d5592"/><circle cx="137.3" cy="148.21" r="0.9" fill="#1d5592"/><circle cx="50.2" cy="151.32" r="0.9" fill="#1d5592"/><circle cx="137.3" cy="150.61" r="0.9" fill="#1d5592"/><circle cx="50.2" cy="150.72" r="0.9" fill="#1d5592"/><circle cx="137.3" cy="148.01" r="0.9" fill="#1d5592"/><circle cx="50.2" cy="154.47" r="0.9" fill="#1d5592"/><circle cx="137.3" cy="150.82" r="0.9" fill="#1d5592"/><circle cx="50.2" cy="149.47" r="0.9" fill="#1d5592"/><circle cx="137.3" cy="148.58" r="0.9" fill="#1d5592"/><circle cx="50.2" cy="154.07" r="0.9" fill="#1d5592"/><circle cx="137.3" cy="149.59" r="0.9" fill="#1d5592"/><circle cx="50.2" cy="149.92" r="0.9" fill="#1d5592"/><circle cx="137.3" cy="152.01" r="0.9" fill="#1d5592"/><circle cx="50.2" cy="152.42" r="0.9" fill="#1d5592"/><circle cx="137.3" cy="153.72" r="0.9" fill="#1d5592"/><circle cx="50.2" cy="152.80" r="0.9" fill="#1d5592"/><circle cx="137.3" cy="151.64" r="0.9" fill="#1d5592"/><circle cx="50.2" cy="155.52" r="0.9" fill="#1d5592"/><circle cx="137.3" cy="151.32" r="0.9" fill="#1d5592"/><circle cx="50.2" cy="146.27" r="0.9" fill="#1c6b54"/><circle cx="137.3" cy="21.00" r="0.9" fill="#1c6b54"/><circle cx="50.2" cy="147.82" r="0.9" fill="#1c6b54"/><circle cx="137.3" cy="22.35" r="0.9" fill="#1c6b54"/><circle cx="50.2" cy="149.75" r="0.9" fill="#1c6b54"/><circle cx="137.3" cy="23.69" r="0.9" fill="#1c6b54"/><circle cx="50.2" cy="153.32" r="0.9" fill="#1c6b54"/><circle cx="137.3" cy="25.04" r="0.9" fill="#1c6b54"/><circle cx="50.2" cy="149.66" r="0.9" fill="#1c6b54"/><circle cx="137.3" cy="26.38" r="0.9" fill="#1c6b54"/><circle cx="50.2" cy="151.43" r="0.9" fill="#1c6b54"/><circle cx="137.3" cy="27.73" r="0.9" fill="#1c6b54"/><circle cx="50.2" cy="152.85" r="0.9" fill="#1c6b54"/><circle cx="137.3" cy="29.08" r="0.9" fill="#1c6b54"/><circle cx="50.2" cy="148.37" r="0.9" fill="#1c6b54"/><circle cx="137.3" cy="30.42" r="0.9" fill="#1c6b54"/><circle cx="50.2" cy="155.37" r="0.9" fill="#1c6b54"/><circle cx="137.3" cy="31.77" r="0.9" fill="#1c6b54"/><circle cx="50.2" cy="149.48" r="0.9" fill="#1c6b54"/><circle cx="137.3" cy="34.46" r="0.9" fill="#1c6b54"/><circle cx="50.2" cy="155.55" r="0.9" fill="#1c6b54"/><circle cx="137.3" cy="35.81" r="0.9" fill="#1c6b54"/><circle cx="50.2" cy="151.21" r="0.9" fill="#1c6b54"/><circle cx="137.3" cy="37.15" r="0.9" fill="#1c6b54"/><circle cx="50.2" cy="152.46" r="0.9" fill="#1c6b54"/><circle cx="137.3" cy="39.84" r="0.9" fill="#1c6b54"/><circle cx="50.2" cy="154.56" r="0.9" fill="#1c6b54"/><circle cx="137.3" cy="41.19" r="0.9" fill="#1c6b54"/><circle cx="50.2" cy="150.10" r="0.9" fill="#1c6b54"/><circle cx="137.3" cy="43.88" r="0.9" fill="#1c6b54"/><circle cx="50.2" cy="152.30" r="0.9" fill="#1c6b54"/><circle cx="137.3" cy="46.57" r="0.9" fill="#1c6b54"/><circle cx="50.2" cy="151.06" r="0.9" fill="#1c6b54"/><circle cx="137.3" cy="49.27" r="0.9" fill="#1c6b54"/><circle cx="50.2" cy="147.28" r="0.9" fill="#1c6b54"/><circle cx="137.3" cy="53.30" r="0.9" fill="#1c6b54"/><circle cx="50.2" cy="154.38" r="0.9" fill="#1c6b54"/><circle cx="137.3" cy="57.34" r="0.9" fill="#1c6b54"/><circle cx="50.2" cy="155.59" r="0.9" fill="#1c6b54"/><circle cx="137.3" cy="61.38" r="0.9" fill="#1c6b54"/><circle cx="50.2" cy="154.04" r="0.9" fill="#1c6b54"/><circle cx="137.3" cy="66.76" r="0.9" fill="#1c6b54"/><circle cx="50.2" cy="150.34" r="0.9" fill="#1c6b54"/><circle cx="137.3" cy="69.86" r="0.9" fill="#1c6b54"/><circle cx="50.2" cy="154.74" r="0.9" fill="#1c6b54"/><circle cx="137.3" cy="76.19" r="0.9" fill="#1c6b54"/><circle cx="50.2" cy="154.94" r="0.9" fill="#1c6b54"/><circle cx="137.3" cy="81.57" r="0.9" fill="#1c6b54"/><circle cx="50.2" cy="147.48" r="0.9" fill="#1c6b54"/><circle cx="137.3" cy="88.30" r="0.9" fill="#1c6b54"/><circle cx="50.2" cy="150.55" r="0.9" fill="#1c6b54"/><circle cx="137.3" cy="95.03" r="0.9" fill="#1c6b54"/><circle cx="50.2" cy="152.83" r="0.9" fill="#1c6b54"/><circle cx="137.3" cy="99.07" r="0.9" fill="#1c6b54"/><circle cx="50.2" cy="147.67" r="0.9" fill="#1c6b54"/><circle cx="137.3" cy="105.80" r="0.9" fill="#1c6b54"/><circle cx="50.2" cy="153.84" r="0.9" fill="#1c6b54"/><circle cx="137.3" cy="111.18" r="0.9" fill="#1c6b54"/><circle cx="50.2" cy="150.48" r="0.9" fill="#1c6b54"/><circle cx="137.3" cy="117.91" r="0.9" fill="#1c6b54"/><circle cx="50.2" cy="154.77" r="0.9" fill="#1c6b54"/><circle cx="137.3" cy="125.99" r="0.9" fill="#1c6b54"/><circle cx="50.2" cy="152.93" r="0.9" fill="#1c6b54"/><circle cx="137.3" cy="131.37" r="0.9" fill="#1c6b54"/><circle cx="50.2" cy="148.78" r="0.9" fill="#1c6b54"/><circle cx="137.3" cy="34.46" r="0.9" fill="#1c6b54"/><circle cx="50.2" cy="147.36" r="0.9" fill="#1c6b54"/><circle cx="137.3" cy="27.73" r="0.9" fill="#1c6b54"/><circle cx="50.2" cy="147.82" r="0.9" fill="#1c6b54"/><circle cx="137.3" cy="21.67" r="0.9" fill="#1c6b54"/><line x1="38.3" y1="20.6" x2="38.3" y2="156.2" stroke="#333" stroke-width="1.1"/><line x1="37.8" y1="155.6" x2="144" y2="155.6" stroke="#333" stroke-width="1.1"/><line x1="35.4" y1="155.6" x2="38.3" y2="155.6" stroke="#333" stroke-width="1"/><text x="33.1" y="158.1" font-size="7.7" fill="#231f20" text-anchor="end" textLength="4.33" lengthAdjust="spacingAndGlyphs" stroke="#231f20" stroke-width="0.05">0</text><line x1="35.4" y1="128.68" x2="38.3" y2="128.68" stroke="#333" stroke-width="1"/><text x="33.1" y="131.18" font-size="7.7" fill="#231f20" text-anchor="end" textLength="8.66" lengthAdjust="spacingAndGlyphs" stroke="#231f20" stroke-width="0.05">20</text><line x1="35.4" y1="101.75999999999999" x2="38.3" y2="101.75999999999999" stroke="#333" stroke-width="1"/><text x="33.1" y="104.25999999999999" font-size="7.7" fill="#231f20" text-anchor="end" textLength="8.66" lengthAdjust="spacingAndGlyphs" stroke="#231f20" stroke-width="0.05">40</text><line x1="35.4" y1="74.83999999999999" x2="38.3" y2="74.83999999999999" stroke="#333" stroke-width="1"/><text x="33.1" y="77.33999999999999" font-size="7.7" fill="#231f20" text-anchor="end" textLength="8.66" lengthAdjust="spacingAndGlyphs" stroke="#231f20" stroke-width="0.05">60</text><line x1="35.4" y1="47.91999999999999" x2="38.3" y2="47.91999999999999" stroke="#333" stroke-width="1"/><text x="33.1" y="50.41999999999999" font-size="7.7" fill="#231f20" text-anchor="end" textLength="8.66" lengthAdjust="spacingAndGlyphs" stroke="#231f20" stroke-width="0.05">80</text><line x1="35.4" y1="20.99999999999997" x2="38.3" y2="20.99999999999997" stroke="#333" stroke-width="1"/><text x="33.1" y="23.49999999999997" font-size="7.7" fill="#231f20" text-anchor="end" textLength="12.99" lengthAdjust="spacingAndGlyphs" stroke="#231f20" stroke-width="0.05">100</text><text transform="translate(12.9,86.9) rotate(-90)" x="0" y="0" font-size="8.2" fill="#231f20" stroke="#231f20" stroke-width="0.15" text-anchor="middle" textLength="87.8" lengthAdjust="spacingAndGlyphs">Cell fractions of 1q21 gain (%)</text><text x="40.8" y="169" font-size="8.6" fill="#231f20" text-anchor="start" textLength="33.2" lengthAdjust="spacingAndGlyphs" stroke="#231f20" stroke-width="0.15">1<tspan font-size="4.8" dy="-3.2">st</tspan><tspan dy="3.2"> sampling</tspan></text><text x="113.9" y="169" font-size="8.6" fill="#231f20" text-anchor="start" textLength="33.9" lengthAdjust="spacingAndGlyphs" stroke="#231f20" stroke-width="0.15">2<tspan font-size="4.8" dy="-3.2">nd</tspan><tspan dy="3.2"> sampling</tspan></text><circle cx="144.4" cy="31.900000000000002" r="1.45" fill="#cc2a3f"/><text x="148.6" y="34.2" font-size="7.1" fill="#cc2a3f" text-anchor="start" textLength="141.4" lengthAdjust="spacingAndGlyphs" stroke="#cc2a3f" stroke-width="0.07">Group A: CF decrease more than 20% or loss</text><text x="148.6" y="42.5" font-size="7.1" fill="#cc2a3f" text-anchor="start" textLength="112.2" lengthAdjust="spacingAndGlyphs" stroke="#cc2a3f" stroke-width="0.07">of 1q21 gain at relapse (n = 15, 8%)</text><circle cx="144.4" cy="52.1" r="1.45" fill="#1d5592"/><text x="148.6" y="54.4" font-size="7.1" fill="#1d5592" text-anchor="start" textLength="129.1" lengthAdjust="spacingAndGlyphs" stroke="#1d5592" stroke-width="0.07">Group B: No gain1q21 in both time points</text><text x="148.6" y="62.7" font-size="7.1" fill="#1d5592" text-anchor="start" textLength="42.9" lengthAdjust="spacingAndGlyphs" stroke="#1d5592" stroke-width="0.07">(n = 50, 27%)</text><circle cx="144.4" cy="72.0" r="1.45" fill="#3db54a"/><text x="148.6" y="74.3" font-size="7.1" fill="#3db54a" text-anchor="start" textLength="137.4" lengthAdjust="spacingAndGlyphs" stroke="#3db54a" stroke-width="0.07">Group C: With 1q21 gain in both time points</text><text x="148.6" y="82.6" font-size="7.1" fill="#3db54a" text-anchor="start" textLength="151.4" lengthAdjust="spacingAndGlyphs" stroke="#3db54a" stroke-width="0.07">and CF change no more than 20% (n = 49, 26%)</text><circle cx="144.4" cy="95.0" r="1.45" fill="#6b3891"/><text x="148.6" y="97.3" font-size="7.1" fill="#6b3891" text-anchor="start" textLength="137.4" lengthAdjust="spacingAndGlyphs" stroke="#6b3891" stroke-width="0.07">Group D: With 1q21 gain in both time points</text><text x="148.6" y="105.6" font-size="7.1" fill="#6b3891" text-anchor="start" textLength="144.4" lengthAdjust="spacingAndGlyphs" stroke="#6b3891" stroke-width="0.07">and CF increase more than 20% (n = 18, 10%)</text><circle cx="144.4" cy="116.3" r="1.45" fill="#f6921e"/><text x="148.6" y="118.6" font-size="7.1" fill="#f6921e" text-anchor="start" textLength="136.2" lengthAdjust="spacingAndGlyphs" stroke="#f6921e" stroke-width="0.07">Group E: With 1q21 gain in both time points</text><text x="148.6" y="126.89999999999999" font-size="7.1" fill="#f6921e" text-anchor="start" textLength="150.4" lengthAdjust="spacingAndGlyphs" stroke="#f6921e" stroke-width="0.07">and CN of 1q21 increase at relapse (n = 21, 11%)</text><circle cx="144.4" cy="140.0" r="1.45" fill="#1c6b54"/><text x="148.6" y="142.3" font-size="7.1" fill="#1c6b54" text-anchor="start" textLength="141.4" lengthAdjust="spacingAndGlyphs" stroke="#1c6b54" stroke-width="0.07">Group F: Newly acquired 1q21 gain at relapse</text><text x="148.6" y="150.60000000000002" font-size="7.1" fill="#1c6b54" text-anchor="start" textLength="43.2" lengthAdjust="spacingAndGlyphs" stroke="#1c6b54" stroke-width="0.07">(n = 35, 19%)</text><text x="308.6" y="17.8" font-size="11.6" fill="#231f20" text-anchor="start" textLength="7.4" lengthAdjust="spacingAndGlyphs" font-weight="bold" stroke="#231f20" stroke-width="0.25">B</text><text x="308.6" y="17.8" font-size="11.6" fill="#231f20" text-anchor="start" textLength="7.4" lengthAdjust="spacingAndGlyphs" font-weight="bold" stroke="#231f20" stroke-width="0.25">B</text><path d="M341.00,50.40 H343.75 V51.25 H345.00 V56.25 H346.90 V62.50 H348.75 V70.00 H350.60 V80.00 H352.50 V91.25 H353.75 V96.58 H355.00 V101.90 H356.25 V100.00 H358.10 V105.00 H359.40 V110.00 H360.60 V116.25 H361.90 V125.00 H363.15 V127.50 H364.40 V130.00 H366.25 V137.50 H368.10 V142.50 H369.35 V144.38 H370.60 V146.25 H371.90 V150.00 L376.90,150.00 H377.50 V152.50 L385.60,152.50" fill="none" stroke="#1c6b54" stroke-width="1.4" stroke-linejoin="miter" stroke-linecap="butt"/><path d="M341.00,50.40 H344.40 V51.25 H345.60 V55.60 H346.90 V61.25 H348.75 V66.25 H350.60 V72.50 H351.90 V81.25 H353.10 V92.50 H354.40 V101.90 L354.40,105.00 H355.60 V106.25 H356.90 V113.75 H358.10 V116.25 H358.75 V122.50 H360.00 V130.00 H361.90 V131.25 H362.50 V136.25 L372.50,136.25 L372.50,142.20 L389.40,142.20" fill="none" stroke="#f6921e" stroke-width="1.4" stroke-linejoin="miter" stroke-linecap="butt"/><path d="M341.00,50.40 H344.40 V51.25 H346.25 V57.50 H348.10 V65.00 H350.00 V72.50 H351.25 V76.25 H352.50 V80.00 H353.75 V85.00 H355.00 V90.00 H356.25 V93.75 H357.50 V97.50 H358.75 V99.70 H360.00 V101.90 L361.25,101.90 H362.50 V102.83 H363.75 V103.75 H365.00 V105.35 H366.25 V106.96 H367.50 V108.56 H368.75 V110.17 H370.00 V111.77" fill="none" stroke="#3db54a" stroke-width="1.4" stroke-linejoin="miter" stroke-linecap="butt"/><path d="M341.00,50.40 L347.50,50.40 H348.75 V58.75 H350.00 V61.25 H351.25 V63.75 H352.50 V66.88 H353.75 V70.00 H355.32 V71.25 H356.90 V72.50 H358.75 V75.00 H360.00 V82.50 H361.25 V84.38 H362.50 V86.25 H365.00 V87.50 H366.90 V90.00 H368.75 V95.00 H370.00 V99.07" fill="none" stroke="#1d5592" stroke-width="1.4" stroke-linejoin="miter" stroke-linecap="butt"/><path d="M341,50.4 H346.9 V50.4 H346.9 V63.75 H352.5 V63.75 H352.5 V66.25 H353.75 V66.25 H353.75 V71.25 H359.4 V71.25 H359.4 V81.25 H361.9 V81.25 H361.9 V91.25 H392.5 V91.25 H392.5 V102.5 H395.6 V102.5 H395.6 V112.75 H422.25 V112.75 H422.25 V123.75 H433.1 V123.75 H433.1 V134.4 H465.8 V134.4" fill="none" stroke="#cc2a3f" stroke-width="1.4" stroke-linejoin="miter" stroke-linecap="butt"/><path d="M341,50.4 H348.5 V50.4 H348.5 V56.9 H350.6 V56.9 H350.6 V62.5 H351.9 V62.5 H351.9 V67.5 H360.6 V67.5 H360.6 V78.75 H361.9 V78.75 H361.9 V91.25 H363.75 V91.25 H363.75 V97.5 H365 V97.5 H365 V106 H366.5 V106 H366.5 V115 H372 V115 H372 V123.75 H375 V123.75 H375 V133.75 H378.5 V133.75 H378.5 V144.4 H410.25 V144.4 H410.25 V155.4" fill="none" stroke="#6b3891" stroke-width="1.4" stroke-linejoin="miter" stroke-linecap="butt"/><path d="M370,99.07 H374.23 V99.07 H374.23 V102.09 H376.65 V102.09 H376.65 V105.72 H379.67 V105.72 H379.67 V108.14 H382.7 V108.14 H382.7 V112.37 H384.51 V112.37 H384.51 V115.39 H387.53 V115.39 H387.53 V118.42 H399.63 V118.42 H399.63 V122.04 H403.86 V122.04 H403.86 V125.67 H406.28 V125.67 H406.28 V131.11 H425.62 V131.11 H425.62 V139.34 H474.3 V139.34 H474.3 V155.4" fill="none" stroke="#1d5592" stroke-width="1.4" stroke-linejoin="miter" stroke-linecap="butt"/><path d="M370,111.77 H374.84 V111.77 H374.84 V112.97 H377.26 V112.97 H377.26 V114.79 H379.07 V114.79 H379.07 V118.42 H380.28 V118.42 H380.28 V122.04 H381.49 V122.04 H381.49 V128.69 H385.72 V128.69 H385.72 V131.72 H386.93 V131.72 H386.93 V135.71 H403.25 V135.71 H403.25 V145.6 H479.6 V145.6" fill="none" stroke="#3db54a" stroke-width="1.4" stroke-linejoin="miter" stroke-linecap="butt"/><line x1="341" y1="50" x2="341" y2="156.4" stroke="#4a4a4a" stroke-width="1.5"/><line x1="340.3" y1="155.7" x2="499.6" y2="155.7" stroke="#4a4a4a" stroke-width="1.5"/><line x1="337.6" y1="155.5" x2="341" y2="155.5" stroke="#555" stroke-width="1"/><text x="334.2" y="158.0" font-size="7.4" fill="#231f20" text-anchor="end" textLength="4.03" lengthAdjust="spacingAndGlyphs" stroke="#231f20" stroke-width="0.05">0</text><line x1="337.6" y1="134.5" x2="341" y2="134.5" stroke="#555" stroke-width="1"/><text x="334.2" y="137.0" font-size="7.4" fill="#231f20" text-anchor="end" textLength="8.06" lengthAdjust="spacingAndGlyphs" stroke="#231f20" stroke-width="0.05">20</text><line x1="337.6" y1="113.5" x2="341" y2="113.5" stroke="#555" stroke-width="1"/><text x="334.2" y="116.0" font-size="7.4" fill="#231f20" text-anchor="end" textLength="8.06" lengthAdjust="spacingAndGlyphs" stroke="#231f20" stroke-width="0.05">40</text><line x1="337.6" y1="92.5" x2="341" y2="92.5" stroke="#555" stroke-width="1"/><text x="334.2" y="95.0" font-size="7.4" fill="#231f20" text-anchor="end" textLength="8.06" lengthAdjust="spacingAndGlyphs" stroke="#231f20" stroke-width="0.05">60</text><line x1="337.6" y1="71.5" x2="341" y2="71.5" stroke="#555" stroke-width="1"/><text x="334.2" y="74.0" font-size="7.4" fill="#231f20" text-anchor="end" textLength="8.06" lengthAdjust="spacingAndGlyphs" stroke="#231f20" stroke-width="0.05">80</text><line x1="337.6" y1="50.5" x2="341" y2="50.5" stroke="#555" stroke-width="1"/><text x="334.2" y="53.0" font-size="7.4" fill="#231f20" text-anchor="end" textLength="12.09" lengthAdjust="spacingAndGlyphs" stroke="#231f20" stroke-width="0.05">100</text><line x1="341.0" y1="155.6" x2="341.0" y2="158.6" stroke="#555" stroke-width="1"/><text x="341.0" y="167.9" font-size="7.6" fill="#231f20" text-anchor="middle" stroke="#231f20" stroke-width="0.05">0</text><line x1="380.6" y1="155.6" x2="380.6" y2="158.6" stroke="#555" stroke-width="1"/><text x="380.6" y="167.9" font-size="7.6" fill="#231f20" text-anchor="middle" stroke="#231f20" stroke-width="0.05">20</text><line x1="420.2" y1="155.6" x2="420.2" y2="158.6" stroke="#555" stroke-width="1"/><text x="420.2" y="167.9" font-size="7.6" fill="#231f20" text-anchor="middle" stroke="#231f20" stroke-width="0.05">40</text><line x1="459.8" y1="155.6" x2="459.8" y2="158.6" stroke="#555" stroke-width="1"/><text x="459.8" y="167.9" font-size="7.6" fill="#231f20" text-anchor="middle" stroke="#231f20" stroke-width="0.05">60</text><line x1="499.4" y1="155.6" x2="499.4" y2="158.6" stroke="#555" stroke-width="1"/><text x="499.4" y="167.9" font-size="7.6" fill="#231f20" text-anchor="middle" stroke="#231f20" stroke-width="0.05">80</text><text x="351.6" y="179.4" font-size="8.1" fill="#231f20" text-anchor="start" textLength="134.9" lengthAdjust="spacingAndGlyphs" stroke="#231f20" stroke-width="0.15">Failure-free survival from 2<tspan font-size="4.8" dy="-3">nd</tspan><tspan dy="3.2"> sampling (months)</tspan></text><text transform="translate(317.4,98.9) rotate(-90)" x="0" y="0" font-size="8.3" fill="#231f20" stroke="#231f20" stroke-width="0.15" text-anchor="middle" textLength="63.8" lengthAdjust="spacingAndGlyphs">Percent survival, %</text><text x="343" y="153.6" font-size="7.2" fill="#231f20" text-anchor="start" textLength="27" lengthAdjust="spacingAndGlyphs" stroke="#231f20" stroke-width="0.04"><tspan font-style="italic">p</tspan>&lt;0.001</text><line x1="386" y1="24.1" x2="396.9" y2="24.1" stroke="#cc2a3f" stroke-width="1.5"/><line x1="391.4" y1="22.5" x2="391.4" y2="24.1" stroke="#cc2a3f" stroke-width="0.7"/><text x="399.4" y="26.1" font-size="7.8" fill="#cc2a3f" text-anchor="start" textLength="80.6" lengthAdjust="spacingAndGlyphs" stroke="#cc2a3f" stroke-width="0.08">Group A (mFFS<tspan font-size="4.4" dy="1.8">2</tspan><tspan dy="-1.8"> = 27.6 m)</tspan></text><line x1="386" y1="34.2" x2="396.9" y2="34.2" stroke="#1d5592" stroke-width="1.5"/><line x1="391.4" y1="32.6" x2="391.4" y2="34.2" stroke="#1d5592" stroke-width="0.7"/><text x="399.4" y="36.2" font-size="7.8" fill="#1d5592" text-anchor="start" textLength="83.1" lengthAdjust="spacingAndGlyphs" stroke="#1d5592" stroke-width="0.08">Group B (mFFS<tspan font-size="4.4" dy="1.8">2</tspan><tspan dy="-1.8"> = 18.1 m)</tspan></text><line x1="386" y1="44.6" x2="396.9" y2="44.6" stroke="#3db54a" stroke-width="1.5"/><line x1="391.4" y1="43.0" x2="391.4" y2="44.6" stroke="#3db54a" stroke-width="0.7"/><text x="399.4" y="46.6" font-size="7.8" fill="#3db54a" text-anchor="start" textLength="83.1" lengthAdjust="spacingAndGlyphs" stroke="#3db54a" stroke-width="0.08">Group C (mFFS<tspan font-size="4.4" dy="1.8">2</tspan><tspan dy="-1.8"> = 10.5 m)</tspan></text><line x1="386" y1="54.8" x2="396.9" y2="54.8" stroke="#6b3891" stroke-width="1.5"/><line x1="391.4" y1="53.199999999999996" x2="391.4" y2="54.8" stroke="#6b3891" stroke-width="0.7"/><text x="399.4" y="56.8" font-size="7.8" fill="#6b3891" text-anchor="start" textLength="81.6" lengthAdjust="spacingAndGlyphs" stroke="#6b3891" stroke-width="0.08">Group D (mFFS<tspan font-size="4.4" dy="1.8">2</tspan><tspan dy="-1.8"> = 12.4 m)</tspan></text><line x1="386" y1="65" x2="396.9" y2="65" stroke="#f6921e" stroke-width="1.5"/><line x1="391.4" y1="63.4" x2="391.4" y2="65" stroke="#f6921e" stroke-width="0.7"/><text x="399.4" y="67.0" font-size="7.8" fill="#f6921e" text-anchor="start" textLength="77.6" lengthAdjust="spacingAndGlyphs" stroke="#f6921e" stroke-width="0.08">Group E (mFFS<tspan font-size="4.4" dy="1.8">2</tspan><tspan dy="-1.8"> = 6.7 m)</tspan></text><line x1="386" y1="75.3" x2="396.9" y2="75.3" stroke="#1c6b54" stroke-width="1.5"/><line x1="391.4" y1="73.7" x2="391.4" y2="75.3" stroke="#1c6b54" stroke-width="0.7"/><text x="399.4" y="77.3" font-size="7.8" fill="#1c6b54" text-anchor="start" textLength="78.1" lengthAdjust="spacingAndGlyphs" stroke="#1c6b54" stroke-width="0.08">Group F (mFFS<tspan font-size="4.4" dy="1.8">2</tspan><tspan dy="-1.8"> = 8.9 m)</tspan></text><line x1="482.9" y1="25" x2="487.9" y2="25" stroke="#2a2a2a" stroke-width="1.1"/><line x1="482.9" y1="54" x2="487.9" y2="54" stroke="#2a2a2a" stroke-width="1.1"/><line x1="485.4" y1="25" x2="485.4" y2="37.1" stroke="#2a2a2a" stroke-width="1.1"/><line x1="485.4" y1="41.699999999999996" x2="485.4" y2="54" stroke="#2a2a2a" stroke-width="1.1"/><circle cx="485.4" cy="39.4" r="0.75" fill="#2a2a2a"/><line x1="488.75" y1="34.4" x2="493.75" y2="34.4" stroke="#2a2a2a" stroke-width="1.1"/><line x1="488.75" y1="54" x2="493.75" y2="54" stroke="#2a2a2a" stroke-width="1.1"/><line x1="491.25" y1="34.4" x2="491.25" y2="41.1" stroke="#2a2a2a" stroke-width="1.1"/><line x1="491.25" y1="45.699999999999996" x2="491.25" y2="54" stroke="#2a2a2a" stroke-width="1.1"/><circle cx="491.25" cy="43.4" r="0.75" fill="#2a2a2a"/><line x1="494.4" y1="43.75" x2="499.4" y2="43.75" stroke="#2a2a2a" stroke-width="1.1"/><line x1="494.4" y1="63.75" x2="499.4" y2="63.75" stroke="#2a2a2a" stroke-width="1.1"/><line x1="496.9" y1="43.75" x2="496.9" y2="50.900000000000006" stroke="#2a2a2a" stroke-width="1.1"/><line x1="496.9" y1="55.5" x2="496.9" y2="63.75" stroke="#2a2a2a" stroke-width="1.1"/><circle cx="496.9" cy="53.2" r="0.75" fill="#2a2a2a"/><line x1="500.0" y1="43.75" x2="505.0" y2="43.75" stroke="#2a2a2a" stroke-width="1.1"/><line x1="500.0" y1="74" x2="505.0" y2="74" stroke="#2a2a2a" stroke-width="1.1"/><line x1="502.5" y1="43.75" x2="502.5" y2="55.800000000000004" stroke="#2a2a2a" stroke-width="1.1"/><line x1="502.5" y1="60.4" x2="502.5" y2="74" stroke="#2a2a2a" stroke-width="1.1"/><circle cx="502.5" cy="58.1" r="0.75" fill="#2a2a2a"/><line x1="506.0" y1="54.4" x2="511.0" y2="54.4" stroke="#2a2a2a" stroke-width="1.1"/><line x1="506.0" y1="74" x2="511.0" y2="74" stroke="#2a2a2a" stroke-width="1.1"/><line x1="508.5" y1="54.4" x2="508.5" y2="61.6" stroke="#2a2a2a" stroke-width="1.1"/><line x1="508.5" y1="66.2" x2="508.5" y2="74" stroke="#2a2a2a" stroke-width="1.1"/><circle cx="508.5" cy="63.9" r="0.75" fill="#2a2a2a"/><text x="5.2" y="210.7" font-size="11.6" fill="#231f20" text-anchor="start" font-weight="bold" stroke="#231f20" stroke-width="0.25">C</text><path d="M37.09,222.57 L43.86,222.57 H46.37 V226.33 H48.87 V230.09 H51.38 V235.10 H53.26 V238.24 H55.14 V241.37 H57.64 V248.88 H59.52 V252.01 H61.40 V255.15 H63.28 V256.41 H65.16 V257.66 H67.67 V259.54 H70.18 V261.42 H72.06 V263.30 H73.93 V265.18 H75.81 V267.69 H77.69 V270.19 H80.82 V271.44 H83.96 V272.69 L88.97,273.20 H90.85 V275.45 H92.73 V277.71 H95.23 V279.59 H97.74 V281.47 H105.26 V282.22 L115.29,282.72 L122.81,282.72" fill="none" stroke="#d5263d" stroke-width="1.3" stroke-linejoin="miter" stroke-linecap="butt"/><path d="M37.09,222.57 H41.35 V223.82 H43.23 V225.70 H45.11 V227.58 H46.99 V231.34 H48.87 V235.10 H50.75 V239.49 H52.63 V243.87 H54.51 V248.25 H56.39 V252.64 H58.89 V255.78 H61.40 V258.91 H63.91 V260.17 H66.42 V261.42 H68.30 V263.93 H70.18 V266.43 H72.69 V268.94 H75.19 V271.44 H78.95 V272.69 H82.71 V273.95 H90.23 V275.20 H95.24 V276.45 H97.75 V278.33 H100.25 V280.21 H104.01 V281.22 H107.77 V282.22 L117.79,282.72" fill="none" stroke="#1f5c9c" stroke-width="1.3" stroke-linejoin="miter" stroke-linecap="butt"/><path d="M37.09,222.57 H41.35 V223.82 H43.23 V225.70 H45.11 V227.58 H46.99 V231.97 H48.87 V236.35 H51.38 V242.62 H53.88 V248.88 H56.39 V252.64 H58.90 V256.40 H60.99 V258.49 H63.07 V260.58 H65.16 V262.67 H67.67 V265.80 H70.18 V268.93 H72.69 V271.44 H75.19 V273.95 H77.69 V275.58 H80.20 V277.21 H87.72 V278.96 H92.73 V280.71 H100.25 V282.22 L110.28,282.72" fill="none" stroke="#41b649" stroke-width="1.3" stroke-linejoin="miter" stroke-linecap="butt"/><line x1="37.1" y1="222.29999999999998" x2="37.1" y2="283.3" stroke="#444" stroke-width="1.3"/><line x1="36.5" y1="282.7" x2="127.8" y2="282.7" stroke="#444" stroke-width="1.3"/><line x1="34.300000000000004" y1="282.7" x2="37.1" y2="282.7" stroke="#444" stroke-width="1.0"/><text x="31.1" y="285.3" font-size="7.7" fill="#231f20" text-anchor="end" textLength="4.25" lengthAdjust="spacingAndGlyphs" stroke="#231f20" stroke-width="0.05">0</text><line x1="34.300000000000004" y1="270.68" x2="37.1" y2="270.68" stroke="#444" stroke-width="1.0"/><text x="31.1" y="273.28000000000003" font-size="7.7" fill="#231f20" text-anchor="end" textLength="8.5" lengthAdjust="spacingAndGlyphs" stroke="#231f20" stroke-width="0.05">20</text><line x1="34.300000000000004" y1="258.65999999999997" x2="37.1" y2="258.65999999999997" stroke="#444" stroke-width="1.0"/><text x="31.1" y="261.26" font-size="7.7" fill="#231f20" text-anchor="end" textLength="8.5" lengthAdjust="spacingAndGlyphs" stroke="#231f20" stroke-width="0.05">40</text><line x1="34.300000000000004" y1="246.64" x2="37.1" y2="246.64" stroke="#444" stroke-width="1.0"/><text x="31.1" y="249.23999999999998" font-size="7.7" fill="#231f20" text-anchor="end" textLength="8.5" lengthAdjust="spacingAndGlyphs" stroke="#231f20" stroke-width="0.05">60</text><line x1="34.300000000000004" y1="234.62" x2="37.1" y2="234.62" stroke="#444" stroke-width="1.0"/><text x="31.1" y="237.22" font-size="7.7" fill="#231f20" text-anchor="end" textLength="8.5" lengthAdjust="spacingAndGlyphs" stroke="#231f20" stroke-width="0.05">80</text><line x1="34.300000000000004" y1="222.6" x2="37.1" y2="222.6" stroke="#444" stroke-width="1.0"/><text x="31.1" y="225.2" font-size="7.7" fill="#231f20" text-anchor="end" textLength="12.75" lengthAdjust="spacingAndGlyphs" stroke="#231f20" stroke-width="0.05">100</text><line x1="37.1" y1="282.7" x2="37.1" y2="285.3" stroke="#444" stroke-width="1.0"/><text x="37.1" y="295" font-size="7.8" fill="#231f20" text-anchor="middle" stroke="#231f20" stroke-width="0.05">0</text><line x1="59.6" y1="282.7" x2="59.6" y2="285.3" stroke="#444" stroke-width="1.0"/><text x="59.6" y="295" font-size="7.8" fill="#231f20" text-anchor="middle" stroke="#231f20" stroke-width="0.05">20</text><line x1="82.2" y1="282.7" x2="82.2" y2="285.3" stroke="#444" stroke-width="1.0"/><text x="82.2" y="295" font-size="7.8" fill="#231f20" text-anchor="middle" stroke="#231f20" stroke-width="0.05">40</text><line x1="104.8" y1="282.7" x2="104.8" y2="285.3" stroke="#444" stroke-width="1.0"/><text x="104.8" y="295" font-size="7.8" fill="#231f20" text-anchor="middle" stroke="#231f20" stroke-width="0.05">60</text><line x1="127.3" y1="282.7" x2="127.3" y2="285.3" stroke="#444" stroke-width="1.0"/><text x="127.3" y="295" font-size="7.8" fill="#231f20" text-anchor="middle" stroke="#231f20" stroke-width="0.05">80</text><text transform="translate(12.899999999999999,252.1) rotate(-90)" x="0" y="0" font-size="8.5" fill="#231f20" stroke="#231f20" stroke-width="0.15" text-anchor="middle" textLength="54.5" lengthAdjust="spacingAndGlyphs">Percent survival, %</text><text x="69.30000000000001" y="211.7" font-size="9.4" fill="#231f20" text-anchor="start" textLength="27.6" lengthAdjust="spacingAndGlyphs" stroke="#231f20" stroke-width="0.08">1<tspan font-size="4.6" dy="-3.4" dx="0.6">st</tspan><tspan dy="3.4"> FFS</tspan></text><text x="23.6" y="307.3" font-size="9.0" fill="#231f20" text-anchor="start" textLength="113.9" lengthAdjust="spacingAndGlyphs" stroke="#231f20" stroke-width="0.12">Interval time from 1<tspan font-size="5.4" dy="-3.2">st</tspan><tspan dy="3.2"> to 2</tspan><tspan font-size="5.4" dy="-3.2">nd</tspan><tspan dy="3.2"> sampling (m)</tspan></text><text x="93.3" y="257.9" font-size="6.8" fill="#231f20" text-anchor="start" textLength="32.9" lengthAdjust="spacingAndGlyphs" stroke="#231f20" stroke-width="0.04"><tspan font-style="italic">p</tspan> = 0.171</text><path d="M164.59,222.57 L165.85,223.07 H168.35 V227.58 H170.86 V232.59 H172.74 V235.10 H174.62 V237.61 H176.50 V240.12 H178.38 V242.62 H180.26 V245.12 H182.14 V247.63 H184.64 V249.51 H187.15 V251.39 H189.03 V252.64 H190.91 V253.90 H192.79 V255.78 H194.67 V257.66 H196.55 V259.54 H198.43 V261.42 H200.93 V265.18 L208.45,265.18 H210.96 V270.19 H215.97 V271.44 H217.23 V273.95 L239.78,273.95 L239.78,282.72" fill="none" stroke="#d5263d" stroke-width="1.3" stroke-linejoin="miter" stroke-linecap="butt"/><path d="M164.59,222.57 H167.10 V226.33 H169.61 V232.59 H171.49 V236.98 H173.37 V241.37 H175.25 V245.75 H177.13 V250.14 H179.00 V253.90 H180.88 V257.66 H182.76 V261.42 H184.64 V265.18 H187.15 V270.19 H189.66 V272.19 L198.43,272.19 H200.93 V276.45 H203.44 V278.96 L242.29,278.96" fill="none" stroke="#1f5c9c" stroke-width="1.3" stroke-linejoin="miter" stroke-linecap="butt"/><path d="M164.59,222.57 H167.10 V230.09 H169.61 V241.37 H172.11 V252.64 H174.62 V262.67 H177.13 V270.19 H179.00 V272.69 H180.88 V275.20 H182.76 V276.83 H184.64 V278.46 L190.91,278.96" fill="none" stroke="#41b649" stroke-width="1.3" stroke-linejoin="miter" stroke-linecap="butt"/><line x1="163.3" y1="222.29999999999998" x2="163.3" y2="283.3" stroke="#444" stroke-width="1.3"/><line x1="162.70000000000002" y1="282.7" x2="254.1" y2="282.7" stroke="#444" stroke-width="1.3"/><line x1="160.5" y1="282.7" x2="163.3" y2="282.7" stroke="#444" stroke-width="1.0"/><text x="157.3" y="285.3" font-size="7.7" fill="#231f20" text-anchor="end" textLength="4.25" lengthAdjust="spacingAndGlyphs" stroke="#231f20" stroke-width="0.05">0</text><line x1="160.5" y1="270.68" x2="163.3" y2="270.68" stroke="#444" stroke-width="1.0"/><text x="157.3" y="273.28000000000003" font-size="7.7" fill="#231f20" text-anchor="end" textLength="8.5" lengthAdjust="spacingAndGlyphs" stroke="#231f20" stroke-width="0.05">20</text><line x1="160.5" y1="258.65999999999997" x2="163.3" y2="258.65999999999997" stroke="#444" stroke-width="1.0"/><text x="157.3" y="261.26" font-size="7.7" fill="#231f20" text-anchor="end" textLength="8.5" lengthAdjust="spacingAndGlyphs" stroke="#231f20" stroke-width="0.05">40</text><line x1="160.5" y1="246.64" x2="163.3" y2="246.64" stroke="#444" stroke-width="1.0"/><text x="157.3" y="249.23999999999998" font-size="7.7" fill="#231f20" text-anchor="end" textLength="8.5" lengthAdjust="spacingAndGlyphs" stroke="#231f20" stroke-width="0.05">60</text><line x1="160.5" y1="234.62" x2="163.3" y2="234.62" stroke="#444" stroke-width="1.0"/><text x="157.3" y="237.22" font-size="7.7" fill="#231f20" text-anchor="end" textLength="8.5" lengthAdjust="spacingAndGlyphs" stroke="#231f20" stroke-width="0.05">80</text><line x1="160.5" y1="222.6" x2="163.3" y2="222.6" stroke="#444" stroke-width="1.0"/><text x="157.3" y="225.2" font-size="7.7" fill="#231f20" text-anchor="end" textLength="12.75" lengthAdjust="spacingAndGlyphs" stroke="#231f20" stroke-width="0.05">100</text><line x1="163.3" y1="282.7" x2="163.3" y2="285.3" stroke="#444" stroke-width="1.0"/><text x="163.3" y="295" font-size="7.8" fill="#231f20" text-anchor="middle" stroke="#231f20" stroke-width="0.05">0</text><line x1="185.9" y1="282.7" x2="185.9" y2="285.3" stroke="#444" stroke-width="1.0"/><text x="185.9" y="295" font-size="7.8" fill="#231f20" text-anchor="middle" stroke="#231f20" stroke-width="0.05">20</text><line x1="208.5" y1="282.7" x2="208.5" y2="285.3" stroke="#444" stroke-width="1.0"/><text x="208.5" y="295" font-size="7.8" fill="#231f20" text-anchor="middle" stroke="#231f20" stroke-width="0.05">40</text><line x1="231" y1="282.7" x2="231" y2="285.3" stroke="#444" stroke-width="1.0"/><text x="231" y="295" font-size="7.8" fill="#231f20" text-anchor="middle" stroke="#231f20" stroke-width="0.05">60</text><line x1="253.6" y1="282.7" x2="253.6" y2="285.3" stroke="#444" stroke-width="1.0"/><text x="253.6" y="295" font-size="7.8" fill="#231f20" text-anchor="middle" stroke="#231f20" stroke-width="0.05">80</text><text transform="translate(140.9,252.1) rotate(-90)" x="0" y="0" font-size="8.5" fill="#231f20" stroke="#231f20" stroke-width="0.15" text-anchor="middle" textLength="54.5" lengthAdjust="spacingAndGlyphs">Percent survival, %</text><text x="194.6" y="211.7" font-size="9.4" fill="#231f20" text-anchor="start" textLength="29.3" lengthAdjust="spacingAndGlyphs" stroke="#231f20" stroke-width="0.08">2<tspan font-size="4.6" dy="-3.4" dx="0.6">nd</tspan><tspan dy="3.4"> FFS</tspan></text><text x="147.9" y="307.3" font-size="9.0" fill="#231f20" text-anchor="start" textLength="118.7" lengthAdjust="spacingAndGlyphs" stroke="#231f20" stroke-width="0.12">Failure-free survival from 2<tspan font-size="5.4" dy="-3.2">nd</tspan><tspan dy="3.2"> sampling (m)</tspan></text><text x="213.3" y="257.8" font-size="6.8" fill="#231f20" text-anchor="start" textLength="27.4" lengthAdjust="spacingAndGlyphs" stroke="#231f20" stroke-width="0.04"><tspan font-style="italic">p</tspan>&lt;0.001</text><path d="M287.08,222.57 L290.09,223.07 H291.97 V224.70 H293.85 V226.33 H295.73 V228.21 H297.61 V230.09 H299.49 V232.59 H301.37 V235.10 H303.25 V236.98 H305.13 V238.86 H307.00 V240.12 H308.88 V241.37 H311.39 V243.87 H315.15 V245.13 H317.66 V246.38 L332.69,246.38 H333.95 V249.64 L369.04,249.64" fill="none" stroke="#d5263d" stroke-width="1.3" stroke-linejoin="miter" stroke-linecap="butt"/><path d="M287.08,222.57 H290.09 V225.08 H292.59 V230.09 H294.47 V233.22 H296.35 V236.35 H298.86 V240.11 H301.37 V243.87 H303.46 V245.12 H305.54 V246.38 H307.63 V247.63 H310.13 V249.51 H312.64 V251.39 H315.15 V254.53 H317.66 V257.66 H319.54 V258.91 H321.42 V260.16 H322.67 V263.17 L335.20,263.17 L335.20,266.43 L342.72,266.43 L342.72,269.69 L365.28,269.69" fill="none" stroke="#1f5c9c" stroke-width="1.3" stroke-linejoin="miter" stroke-linecap="butt"/><path d="M287.08,222.57 H290.09 V228.83 H291.97 V234.47 H293.85 V240.11 H295.73 V245.75 H297.61 V251.39 H300.12 V255.78 H302.62 V260.16 H304.50 V262.67 H306.38 V265.18 H308.26 V268.94 H310.14 V272.69 H312.02 V275.82 H313.90 V278.96 L327.68,278.96 H328.93 V280.71 L361.52,280.71" fill="none" stroke="#41b649" stroke-width="1.3" stroke-linejoin="miter" stroke-linecap="butt"/><line x1="287.1" y1="222.29999999999998" x2="287.1" y2="283.3" stroke="#444" stroke-width="1.3"/><line x1="286.5" y1="282.7" x2="378.3" y2="282.7" stroke="#444" stroke-width="1.3"/><line x1="284.3" y1="282.7" x2="287.1" y2="282.7" stroke="#444" stroke-width="1.0"/><text x="281.1" y="285.3" font-size="7.7" fill="#231f20" text-anchor="end" textLength="4.25" lengthAdjust="spacingAndGlyphs" stroke="#231f20" stroke-width="0.05">0</text><line x1="284.3" y1="270.68" x2="287.1" y2="270.68" stroke="#444" stroke-width="1.0"/><text x="281.1" y="273.28000000000003" font-size="7.7" fill="#231f20" text-anchor="end" textLength="8.5" lengthAdjust="spacingAndGlyphs" stroke="#231f20" stroke-width="0.05">20</text><line x1="284.3" y1="258.65999999999997" x2="287.1" y2="258.65999999999997" stroke="#444" stroke-width="1.0"/><text x="281.1" y="261.26" font-size="7.7" fill="#231f20" text-anchor="end" textLength="8.5" lengthAdjust="spacingAndGlyphs" stroke="#231f20" stroke-width="0.05">40</text><line x1="284.3" y1="246.64" x2="287.1" y2="246.64" stroke="#444" stroke-width="1.0"/><text x="281.1" y="249.23999999999998" font-size="7.7" fill="#231f20" text-anchor="end" textLength="8.5" lengthAdjust="spacingAndGlyphs" stroke="#231f20" stroke-width="0.05">60</text><line x1="284.3" y1="234.62" x2="287.1" y2="234.62" stroke="#444" stroke-width="1.0"/><text x="281.1" y="237.22" font-size="7.7" fill="#231f20" text-anchor="end" textLength="8.5" lengthAdjust="spacingAndGlyphs" stroke="#231f20" stroke-width="0.05">80</text><line x1="284.3" y1="222.6" x2="287.1" y2="222.6" stroke="#444" stroke-width="1.0"/><text x="281.1" y="225.2" font-size="7.7" fill="#231f20" text-anchor="end" textLength="12.75" lengthAdjust="spacingAndGlyphs" stroke="#231f20" stroke-width="0.05">100</text><line x1="287.1" y1="282.7" x2="287.1" y2="285.3" stroke="#444" stroke-width="1.0"/><text x="287.1" y="295" font-size="7.8" fill="#231f20" text-anchor="middle" stroke="#231f20" stroke-width="0.05">0</text><line x1="305.1" y1="282.7" x2="305.1" y2="285.3" stroke="#444" stroke-width="1.0"/><text x="305.1" y="295" font-size="7.8" fill="#231f20" text-anchor="middle" stroke="#231f20" stroke-width="0.05">20</text><line x1="323.2" y1="282.7" x2="323.2" y2="285.3" stroke="#444" stroke-width="1.0"/><text x="323.2" y="295" font-size="7.8" fill="#231f20" text-anchor="middle" stroke="#231f20" stroke-width="0.05">40</text><line x1="341.5" y1="282.7" x2="341.5" y2="285.3" stroke="#444" stroke-width="1.0"/><text x="341.5" y="295" font-size="7.8" fill="#231f20" text-anchor="middle" stroke="#231f20" stroke-width="0.05">60</text><line x1="359.8" y1="282.7" x2="359.8" y2="285.3" stroke="#444" stroke-width="1.0"/><text x="359.8" y="295" font-size="7.8" fill="#231f20" text-anchor="middle" stroke="#231f20" stroke-width="0.05">80</text><line x1="377.8" y1="282.7" x2="377.8" y2="285.3" stroke="#444" stroke-width="1.0"/><text x="377.8" y="295" font-size="7.8" fill="#231f20" text-anchor="middle" stroke="#231f20" stroke-width="0.05">100</text><text transform="translate(263.90000000000003,252.1) rotate(-90)" x="0" y="0" font-size="8.5" fill="#231f20" stroke="#231f20" stroke-width="0.15" text-anchor="middle" textLength="54.5" lengthAdjust="spacingAndGlyphs">Percent survival, %</text><text x="320.09999999999997" y="211.7" font-size="9.4" fill="#231f20" text-anchor="start" textLength="25.0" lengthAdjust="spacingAndGlyphs" stroke="#231f20" stroke-width="0.08">1<tspan font-size="4.6" dy="-3.4" dx="0.6">st</tspan><tspan dy="3.4"> OS</tspan></text><text x="277.8" y="307.3" font-size="9.0" fill="#231f20" text-anchor="start" textLength="106.2" lengthAdjust="spacingAndGlyphs" stroke="#231f20" stroke-width="0.12">Overall survival from 2<tspan font-size="5.4" dy="-3.2">nd</tspan><tspan dy="3.2"> sampling (m)</tspan></text><text x="341.5" y="242" font-size="6.8" fill="#231f20" text-anchor="start" textLength="28.8" lengthAdjust="spacingAndGlyphs" stroke="#231f20" stroke-width="0.04"><tspan font-style="italic">p</tspan>&lt;0.001</text><path d="M417.08,222.57 L425.10,222.57 H428.86 V223.82 H430.74 V225.07 H432.62 V226.33 H434.50 V228.21 H436.38 V230.09 H438.26 V231.34 H440.14 V232.59 H442.64 V233.84 H445.15 V235.10 H447.65 V236.36 H450.16 V237.61 H452.67 V238.86 H455.18 V240.11 H460.19 V241.37 H462.69 V243.87 H465.20 V246.38 L472.72,246.38 H473.97 V251.39 H476.48 V252.64 H477.73 V258.91 L489.01,258.91 L489.01,266.43 L497.78,266.43" fill="none" stroke="#d5263d" stroke-width="1.3" stroke-linejoin="miter" stroke-linecap="butt"/><path d="M417.08,222.57 L423.85,222.57 H425.73 V224.45 H427.61 V226.33 H429.49 V228.21 H431.37 V230.09 H433.25 V232.59 H435.13 V235.10 H437.00 V236.98 H438.88 V238.86 H440.76 V240.12 H442.64 V241.37 H444.52 V243.88 H446.40 V246.38 H448.91 V252.64 H450.79 V253.89 H452.67 V255.15 H455.18 V258.91 H457.06 V260.17 H458.93 V261.42 H460.19 V263.17 L465.20,263.17 H466.45 V266.93 L497.78,266.93" fill="none" stroke="#1f5c9c" stroke-width="1.3" stroke-linejoin="miter" stroke-linecap="butt"/><path d="M417.08,222.57 L423.85,222.57 H426.35 V227.58 H428.86 V233.85 H431.37 V240.11 H433.87 V245.13 H436.38 V252.64 H438.26 V256.40 H440.14 V260.16 H443.90 V261.42 H446.40 V263.92 H448.28 V265.80 H450.16 V267.68 H452.04 V269.56 H453.92 V271.44 H455.80 V273.57 H457.68 V275.70 H460.19 V278.21 L480.24,278.21" fill="none" stroke="#41b649" stroke-width="1.3" stroke-linejoin="miter" stroke-linecap="butt"/><line x1="417.1" y1="222.29999999999998" x2="417.1" y2="283.3" stroke="#444" stroke-width="1.3"/><line x1="416.5" y1="282.7" x2="508.3" y2="282.7" stroke="#444" stroke-width="1.3"/><line x1="414.3" y1="282.7" x2="417.1" y2="282.7" stroke="#444" stroke-width="1.0"/><text x="411.1" y="285.3" font-size="7.7" fill="#231f20" text-anchor="end" textLength="4.25" lengthAdjust="spacingAndGlyphs" stroke="#231f20" stroke-width="0.05">0</text><line x1="414.3" y1="270.68" x2="417.1" y2="270.68" stroke="#444" stroke-width="1.0"/><text x="411.1" y="273.28000000000003" font-size="7.7" fill="#231f20" text-anchor="end" textLength="8.5" lengthAdjust="spacingAndGlyphs" stroke="#231f20" stroke-width="0.05">20</text><line x1="414.3" y1="258.65999999999997" x2="417.1" y2="258.65999999999997" stroke="#444" stroke-width="1.0"/><text x="411.1" y="261.26" font-size="7.7" fill="#231f20" text-anchor="end" textLength="8.5" lengthAdjust="spacingAndGlyphs" stroke="#231f20" stroke-width="0.05">40</text><line x1="414.3" y1="246.64" x2="417.1" y2="246.64" stroke="#444" stroke-width="1.0"/><text x="411.1" y="249.23999999999998" font-size="7.7" fill="#231f20" text-anchor="end" textLength="8.5" lengthAdjust="spacingAndGlyphs" stroke="#231f20" stroke-width="0.05">60</text><line x1="414.3" y1="234.62" x2="417.1" y2="234.62" stroke="#444" stroke-width="1.0"/><text x="411.1" y="237.22" font-size="7.7" fill="#231f20" text-anchor="end" textLength="8.5" lengthAdjust="spacingAndGlyphs" stroke="#231f20" stroke-width="0.05">80</text><line x1="414.3" y1="222.6" x2="417.1" y2="222.6" stroke="#444" stroke-width="1.0"/><text x="411.1" y="225.2" font-size="7.7" fill="#231f20" text-anchor="end" textLength="12.75" lengthAdjust="spacingAndGlyphs" stroke="#231f20" stroke-width="0.05">100</text><line x1="417.1" y1="282.7" x2="417.1" y2="285.3" stroke="#444" stroke-width="1.0"/><text x="417.1" y="295" font-size="7.8" fill="#231f20" text-anchor="middle" stroke="#231f20" stroke-width="0.05">0</text><line x1="435.1" y1="282.7" x2="435.1" y2="285.3" stroke="#444" stroke-width="1.0"/><text x="435.1" y="295" font-size="7.8" fill="#231f20" text-anchor="middle" stroke="#231f20" stroke-width="0.05">30</text><line x1="453.2" y1="282.7" x2="453.2" y2="285.3" stroke="#444" stroke-width="1.0"/><text x="453.2" y="295" font-size="7.8" fill="#231f20" text-anchor="middle" stroke="#231f20" stroke-width="0.05">60</text><line x1="471.5" y1="282.7" x2="471.5" y2="285.3" stroke="#444" stroke-width="1.0"/><text x="471.5" y="295" font-size="7.8" fill="#231f20" text-anchor="middle" stroke="#231f20" stroke-width="0.05">90</text><line x1="489.8" y1="282.7" x2="489.8" y2="285.3" stroke="#444" stroke-width="1.0"/><text x="489.8" y="295" font-size="7.8" fill="#231f20" text-anchor="middle" stroke="#231f20" stroke-width="0.05">120</text><line x1="507.8" y1="282.7" x2="507.8" y2="285.3" stroke="#444" stroke-width="1.0"/><text x="507.8" y="295" font-size="7.8" fill="#231f20" text-anchor="middle" stroke="#231f20" stroke-width="0.05">150</text><text transform="translate(393.90000000000003,252.1) rotate(-90)" x="0" y="0" font-size="8.5" fill="#231f20" stroke="#231f20" stroke-width="0.15" text-anchor="middle" textLength="54.5" lengthAdjust="spacingAndGlyphs">Percent survival, %</text><text x="449.9" y="211.7" font-size="9.4" fill="#231f20" text-anchor="start" textLength="27.3" lengthAdjust="spacingAndGlyphs" stroke="#231f20" stroke-width="0.08">2<tspan font-size="4.6" dy="-3.4" dx="0.6">nd</tspan><tspan dy="3.4"> OS</tspan></text><text x="409.6" y="307.3" font-size="9.0" fill="#231f20" text-anchor="start" textLength="104.4" lengthAdjust="spacingAndGlyphs" stroke="#231f20" stroke-width="0.12">Overall survival from 1<tspan font-size="5.4" dy="-3.2">st</tspan><tspan dy="3.2"> sampling (m)</tspan></text><text x="485.3" y="251.6" font-size="6.8" fill="#231f20" text-anchor="start" textLength="27.5" lengthAdjust="spacingAndGlyphs" stroke="#231f20" stroke-width="0.04"><tspan font-style="italic">p</tspan>&lt;0.001</text><line x1="458.8" y1="220" x2="464.9" y2="220" stroke="#d5263d" stroke-width="1.6"/><text x="467.7" y="222.4" font-size="7.6" fill="#231f20" text-anchor="start" textLength="45.3" lengthAdjust="spacingAndGlyphs" stroke="#231f20" stroke-width="0.05">Group A and B</text><line x1="458.8" y1="227.6" x2="464.9" y2="227.6" stroke="#1f5c9c" stroke-width="1.6"/><text x="467.7" y="230.0" font-size="7.6" fill="#231f20" text-anchor="start" textLength="45.3" lengthAdjust="spacingAndGlyphs" stroke="#231f20" stroke-width="0.05">Group C and D</text><line x1="458.8" y1="234.6" x2="464.9" y2="234.6" stroke="#41b649" stroke-width="1.6"/><text x="467.7" y="237.0" font-size="7.6" fill="#231f20" text-anchor="start" textLength="45.3" lengthAdjust="spacingAndGlyphs" stroke="#231f20" stroke-width="0.05">Group E and F</text><text x="6.3" y="333.1" font-size="11.6" fill="#231f20" text-anchor="start" font-weight="bold" stroke="#231f20" stroke-width="0.25">D</text><path d="M34.26,384.76 Q36.88,386.46 39.80,387.33 Q42.36,388.51 43.33,391.46 Q44.01,394.82 45.43,397.85 Q46.40,400.80 45.56,403.37 Q44.27,405.98 43.74,408.96 Q42.90,411.53 40.40,412.48 Q37.52,413.11 34.99,414.55 Q32.49,415.50 29.85,414.46 Q27.14,412.94 24.13,412.21 Q21.49,411.17 20.63,408.54 Q20.06,405.51 18.75,402.83 Q17.88,400.20 18.73,397.44 Q20.03,394.61 20.58,391.46 Q21.43,388.70 23.90,387.47 Q26.73,386.55 29.24,384.81 Q31.71,383.57 34.26,384.76Z" fill="#f6d0d7" stroke="#d9485f" stroke-width="0.9"/><g transform="translate(32,400) scale(0.84) translate(-32,-400)"><path d="M34.26,384.76 Q36.88,386.46 39.80,387.33 Q42.36,388.51 43.33,391.46 Q44.01,394.82 45.43,397.85 Q46.40,400.80 45.56,403.37 Q44.27,405.98 43.74,408.96 Q42.90,411.53 40.40,412.48 Q37.52,413.11 34.99,414.55 Q32.49,415.50 29.85,414.46 Q27.14,412.94 24.13,412.21 Q21.49,411.17 20.63,408.54 Q20.06,405.51 18.75,402.83 Q17.88,400.20 18.73,397.44 Q20.03,394.61 20.58,391.46 Q21.43,388.70 23.90,387.47 Q26.73,386.55 29.24,384.81 Q31.71,383.57 34.26,384.76Z" fill="#f0b9c5"/></g><path d="M32.4,391.35 C38.43725,391.35 40.15,397.3625 40.15,401.9875 C40.15,407.07500000000005 37.05,409.85 32.4,409.85 C27.75,409.85 24.65,407.07500000000005 24.65,401.9875 C24.65,397.3625 26.36275,391.35 32.4,391.35Z" fill="#e0627a"/><rect x="27.15" y="397.1" width="1.9" height="7.0" rx="0.95" fill="#c9243f"/><rect x="31.45" y="397.1" width="1.9" height="7.0" rx="0.95" fill="#c9243f"/><rect x="35.75" y="397.1" width="1.9" height="7.0" rx="0.95" fill="#c9243f"/><path d="M73.55,384.73 Q71.03,386.47 68.23,387.37 Q65.77,388.59 64.63,391.52 Q63.76,394.86 62.15,397.88 Q61.01,400.81 61.92,403.33 Q63.28,405.88 63.88,408.79 Q64.79,411.31 67.29,412.41 Q70.16,413.18 72.70,414.77 Q75.20,415.87 77.80,414.71 Q80.48,413.05 83.45,412.20 Q86.05,411.05 86.89,408.44 Q87.43,405.45 88.70,402.80 Q89.54,400.20 88.80,397.41 Q87.62,394.56 87.19,391.37 Q86.44,388.58 83.94,387.36 Q81.06,386.46 78.51,384.73 Q76.01,383.51 73.55,384.73Z" fill="#d5e1ee" stroke="#4f86b8" stroke-width="0.9"/><g transform="translate(75.7,400) scale(0.84) translate(-75.7,-400)"><path d="M73.55,384.73 Q71.03,386.47 68.23,387.37 Q65.77,388.59 64.63,391.52 Q63.76,394.86 62.15,397.88 Q61.01,400.81 61.92,403.33 Q63.28,405.88 63.88,408.79 Q64.79,411.31 67.29,412.41 Q70.16,413.18 72.70,414.77 Q75.20,415.87 77.80,414.71 Q80.48,413.05 83.45,412.20 Q86.05,411.05 86.89,408.44 Q87.43,405.45 88.70,402.80 Q89.54,400.20 88.80,397.41 Q87.62,394.56 87.19,391.37 Q86.44,388.58 83.94,387.36 Q81.06,386.46 78.51,384.73 Q76.01,383.51 73.55,384.73Z" fill="#c3d4e7"/></g><path d="M76.10000000000001,391.35 C82.13725000000001,391.35 83.85000000000001,397.3625 83.85000000000001,401.9875 C83.85000000000001,407.07500000000005 80.75000000000001,409.85 76.10000000000001,409.85 C71.45,409.85 68.35000000000001,407.07500000000005 68.35000000000001,401.9875 C68.35000000000001,397.3625 70.06275000000001,391.35 76.10000000000001,391.35Z" fill="#6592bf"/><rect x="72.60" y="397.1" width="2.2" height="7.0" rx="1.1" fill="#2766a3"/><rect x="77.40" y="397.1" width="2.2" height="7.0" rx="1.1" fill="#2766a3"/><line x1="45.6" y1="400" x2="59.300000000000004" y2="400" stroke="#3a3a3a" stroke-width="1.1"/><path d="M62.300000000000004,400 L58.1,397.7 L58.1,402.3Z" fill="#111"/><text x="32" y="424.8" font-size="8.2" fill="#333" text-anchor="middle" stroke="#333" stroke-width="0.03">ND</text><text x="75.7" y="424.8" font-size="8.2" fill="#333" text-anchor="middle" stroke="#333" stroke-width="0.03">R</text><path d="M111.20,384.87 Q113.77,386.48 116.62,387.25 Q119.12,388.35 120.17,391.34 Q120.95,394.73 122.46,397.80 Q123.51,400.79 122.54,403.37 Q121.12,405.98 120.45,408.97 Q119.48,411.55 117.09,412.53 Q114.32,413.19 111.89,414.65 Q109.49,415.63 106.83,414.57 Q104.09,413.01 101.06,412.25 Q98.39,411.19 97.54,408.55 Q96.98,405.52 95.68,402.84 Q94.82,400.20 95.66,397.50 Q96.94,394.74 97.47,391.65 Q98.31,388.96 100.81,387.71 Q103.67,386.77 106.21,385.02 Q108.70,383.77 111.20,384.87Z" fill="#d5e1ee" stroke="#4f86b8" stroke-width="0.9"/><g transform="translate(109,400) scale(0.84) translate(-109,-400)"><path d="M111.20,384.87 Q113.77,386.48 116.62,387.25 Q119.12,388.35 120.17,391.34 Q120.95,394.73 122.46,397.80 Q123.51,400.79 122.54,403.37 Q121.12,405.98 120.45,408.97 Q119.48,411.55 117.09,412.53 Q114.32,413.19 111.89,414.65 Q109.49,415.63 106.83,414.57 Q104.09,413.01 101.06,412.25 Q98.39,411.19 97.54,408.55 Q96.98,405.52 95.68,402.84 Q94.82,400.20 95.66,397.50 Q96.94,394.74 97.47,391.65 Q98.31,388.96 100.81,387.71 Q103.67,386.77 106.21,385.02 Q108.70,383.77 111.20,384.87Z" fill="#c3d4e7"/></g><path d="M109.4,391.35 C115.43725,391.35 117.15,397.3625 117.15,401.9875 C117.15,407.07500000000005 114.05000000000001,409.85 109.4,409.85 C104.75,409.85 101.65,407.07500000000005 101.65,401.9875 C101.65,397.3625 103.36275,391.35 109.4,391.35Z" fill="#6592bf"/><rect x="105.90" y="397.1" width="2.2" height="7.0" rx="1.1" fill="#2766a3"/><rect x="110.70" y="397.1" width="2.2" height="7.0" rx="1.1" fill="#2766a3"/><path d="M150.29,385.14 Q147.73,386.72 144.87,387.48 Q142.36,388.56 141.43,391.50 Q140.78,394.84 139.41,397.86 Q138.47,400.80 139.18,403.37 Q140.33,405.98 140.72,408.96 Q141.43,411.54 143.96,412.52 Q146.88,413.17 149.46,414.64 Q151.99,415.62 154.59,414.54 Q157.26,412.96 160.22,412.19 Q162.82,411.10 163.62,408.48 Q164.12,405.48 165.33,402.81 Q166.13,400.20 165.36,397.42 Q164.16,394.57 163.69,391.39 Q162.92,388.61 160.49,387.52 Q157.70,386.74 155.22,385.15 Q152.80,384.06 150.29,385.14Z" fill="#d5e1ee" stroke="#4f86b8" stroke-width="0.9"/><g transform="translate(152.5,400) scale(0.84) translate(-152.5,-400)"><path d="M150.29,385.14 Q147.73,386.72 144.87,387.48 Q142.36,388.56 141.43,391.50 Q140.78,394.84 139.41,397.86 Q138.47,400.80 139.18,403.37 Q140.33,405.98 140.72,408.96 Q141.43,411.54 143.96,412.52 Q146.88,413.17 149.46,414.64 Q151.99,415.62 154.59,414.54 Q157.26,412.96 160.22,412.19 Q162.82,411.10 163.62,408.48 Q164.12,405.48 165.33,402.81 Q166.13,400.20 165.36,397.42 Q164.16,394.57 163.69,391.39 Q162.92,388.61 160.49,387.52 Q157.70,386.74 155.22,385.15 Q152.80,384.06 150.29,385.14Z" fill="#c3d4e7"/></g><path d="M152.9,391.35 C158.93725,391.35 160.65,397.3625 160.65,401.9875 C160.65,407.07500000000005 157.55,409.85 152.9,409.85 C148.25,409.85 145.15,407.07500000000005 145.15,401.9875 C145.15,397.3625 146.86275,391.35 152.9,391.35Z" fill="#6592bf"/><rect x="149.40" y="397.1" width="2.2" height="7.0" rx="1.1" fill="#2766a3"/><rect x="154.20" y="397.1" width="2.2" height="7.0" rx="1.1" fill="#2766a3"/><line x1="122.6" y1="400" x2="136.1" y2="400" stroke="#3a3a3a" stroke-width="1.1"/><path d="M139.1,400 L134.9,397.7 L134.9,402.3Z" fill="#111"/><text x="109" y="424.8" font-size="8.2" fill="#333" text-anchor="middle" stroke="#333" stroke-width="0.03">ND</text><text x="152.5" y="424.8" font-size="8.2" fill="#333" text-anchor="middle" stroke="#333" stroke-width="0.03">R</text><path d="M199.26,384.74 Q201.89,386.34 204.82,387.10 Q207.38,388.19 208.40,391.22 Q209.12,394.67 210.59,397.78 Q211.61,400.81 210.62,403.35 Q209.17,405.92 208.48,408.85 Q207.49,411.38 205.10,412.47 Q202.34,413.23 199.91,414.81 Q197.51,415.89 194.86,414.73 Q192.13,413.06 189.11,412.19 Q186.45,411.03 185.65,408.43 Q185.16,405.44 183.92,402.80 Q183.13,400.20 183.90,397.45 Q185.12,394.65 185.59,391.51 Q186.37,388.77 188.85,387.54 Q191.70,386.62 194.22,384.87 Q196.70,383.64 199.26,384.74Z" fill="#f6d0d7" stroke="#d9485f" stroke-width="0.9"/><g transform="translate(197,400) scale(0.84) translate(-197,-400)"><path d="M199.26,384.74 Q201.89,386.34 204.82,387.10 Q207.38,388.19 208.40,391.22 Q209.12,394.67 210.59,397.78 Q211.61,400.81 210.62,403.35 Q209.17,405.92 208.48,408.85 Q207.49,411.38 205.10,412.47 Q202.34,413.23 199.91,414.81 Q197.51,415.89 194.86,414.73 Q192.13,413.06 189.11,412.19 Q186.45,411.03 185.65,408.43 Q185.16,405.44 183.92,402.80 Q183.13,400.20 183.90,397.45 Q185.12,394.65 185.59,391.51 Q186.37,388.77 188.85,387.54 Q191.70,386.62 194.22,384.87 Q196.70,383.64 199.26,384.74Z" fill="#f0b9c5"/></g><path d="M197.4,391.35 C203.43725,391.35 205.15,397.3625 205.15,401.9875 C205.15,407.07500000000005 202.05,409.85 197.4,409.85 C192.75,409.85 189.65,407.07500000000005 189.65,401.9875 C189.65,397.3625 191.36275,391.35 197.4,391.35Z" fill="#e0627a"/><rect x="192.15" y="397.1" width="1.9" height="7.0" rx="0.95" fill="#c9243f"/><rect x="196.45" y="397.1" width="1.9" height="7.0" rx="0.95" fill="#c9243f"/><rect x="200.75" y="397.1" width="1.9" height="7.0" rx="0.95" fill="#c9243f"/><path d="M238.29,384.77 Q235.71,386.47 232.83,387.33 Q230.31,388.51 229.40,391.46 Q228.78,394.82 227.44,397.85 Q226.53,400.81 227.30,403.38 Q228.50,405.98 228.95,408.95 Q229.72,411.52 232.19,412.59 Q235.03,413.33 237.54,414.90 Q240.00,415.97 242.56,414.86 Q245.19,413.24 248.10,412.45 Q250.66,411.34 251.60,408.66 Q252.26,405.59 253.65,402.87 Q254.59,400.20 253.76,397.44 Q252.49,394.63 251.96,391.47 Q251.12,388.72 248.65,387.49 Q245.80,386.57 243.28,384.82 Q240.81,383.59 238.29,384.77Z" fill="#f6d0d7" stroke="#d9485f" stroke-width="0.9"/><g transform="translate(240.5,400) scale(0.84) translate(-240.5,-400)"><path d="M238.29,384.77 Q235.71,386.47 232.83,387.33 Q230.31,388.51 229.40,391.46 Q228.78,394.82 227.44,397.85 Q226.53,400.81 227.30,403.38 Q228.50,405.98 228.95,408.95 Q229.72,411.52 232.19,412.59 Q235.03,413.33 237.54,414.90 Q240.00,415.97 242.56,414.86 Q245.19,413.24 248.10,412.45 Q250.66,411.34 251.60,408.66 Q252.26,405.59 253.65,402.87 Q254.59,400.20 253.76,397.44 Q252.49,394.63 251.96,391.47 Q251.12,388.72 248.65,387.49 Q245.80,386.57 243.28,384.82 Q240.81,383.59 238.29,384.77Z" fill="#f0b9c5"/></g><path d="M240.9,391.35 C246.93725,391.35 248.65,397.3625 248.65,401.9875 C248.65,407.07500000000005 245.55,409.85 240.9,409.85 C236.25,409.85 233.15,407.07500000000005 233.15,401.9875 C233.15,397.3625 234.86275,391.35 240.9,391.35Z" fill="#e0627a"/><rect x="235.65" y="397.1" width="1.9" height="7.0" rx="0.95" fill="#c9243f"/><rect x="239.95" y="397.1" width="1.9" height="7.0" rx="0.95" fill="#c9243f"/><rect x="244.25" y="397.1" width="1.9" height="7.0" rx="0.95" fill="#c9243f"/><line x1="210.6" y1="400" x2="224.1" y2="400" stroke="#3a3a3a" stroke-width="1.1"/><path d="M227.1,400 L222.9,397.7 L222.9,402.3Z" fill="#111"/><text x="197" y="424.8" font-size="8.2" fill="#333" text-anchor="middle" stroke="#333" stroke-width="0.03">ND</text><text x="240.5" y="424.8" font-size="8.2" fill="#333" text-anchor="middle" stroke="#333" stroke-width="0.03">R</text><path d="M275.99,385.12 Q278.60,386.72 281.50,387.50 Q284.04,388.60 285.04,391.53 Q285.74,394.86 287.19,397.87 Q288.18,400.80 287.24,403.34 Q285.85,405.92 285.20,408.86 Q284.26,411.40 281.86,412.45 Q279.08,413.17 276.64,414.71 Q274.24,415.76 271.71,414.62 Q269.12,412.99 266.24,412.15 Q263.72,411.02 262.80,408.42 Q262.17,405.44 260.83,402.80 Q259.91,400.20 260.75,397.50 Q262.01,394.73 262.55,391.63 Q263.39,388.92 265.80,387.75 Q268.58,386.88 271.04,385.20 Q273.45,384.03 275.99,385.12Z" fill="#f6d0d7" stroke="#d9485f" stroke-width="0.9"/><g transform="translate(273.75,400) scale(0.84) translate(-273.75,-400)"><path d="M275.99,385.12 Q278.60,386.72 281.50,387.50 Q284.04,388.60 285.04,391.53 Q285.74,394.86 287.19,397.87 Q288.18,400.80 287.24,403.34 Q285.85,405.92 285.20,408.86 Q284.26,411.40 281.86,412.45 Q279.08,413.17 276.64,414.71 Q274.24,415.76 271.71,414.62 Q269.12,412.99 266.24,412.15 Q263.72,411.02 262.80,408.42 Q262.17,405.44 260.83,402.80 Q259.91,400.20 260.75,397.50 Q262.01,394.73 262.55,391.63 Q263.39,388.92 265.80,387.75 Q268.58,386.88 271.04,385.20 Q273.45,384.03 275.99,385.12Z" fill="#f0b9c5"/></g><path d="M274.15,391.35 C280.18724999999995,391.35 281.9,397.3625 281.9,401.9875 C281.9,407.07500000000005 278.79999999999995,409.85 274.15,409.85 C269.5,409.85 266.4,407.07500000000005 266.4,401.9875 C266.4,397.3625 268.11275,391.35 274.15,391.35Z" fill="#e0627a"/><rect x="268.90" y="397.1" width="1.9" height="7.0" rx="0.95" fill="#c9243f"/><rect x="273.20" y="397.1" width="1.9" height="7.0" rx="0.95" fill="#c9243f"/><rect x="277.50" y="397.1" width="1.9" height="7.0" rx="0.95" fill="#c9243f"/><path d="M315.33,384.65 Q312.81,386.33 309.99,387.15 Q307.53,388.30 306.55,391.30 Q305.85,394.71 304.44,397.80 Q303.46,400.79 304.16,403.31 Q305.29,405.85 305.68,408.75 Q306.38,411.27 308.93,412.35 Q311.86,413.12 314.45,414.69 Q317.00,415.77 319.58,414.68 Q322.24,413.08 325.18,412.30 Q327.77,411.20 328.58,408.56 Q329.10,405.53 330.33,402.84 Q331.14,400.20 330.35,397.49 Q329.13,394.72 328.63,391.63 Q327.84,388.92 325.43,387.62 Q322.66,386.62 320.21,384.80 Q317.80,383.50 315.33,384.65Z" fill="#f6d0d7" stroke="#d9485f" stroke-width="0.9"/><g transform="translate(317.5,400) scale(0.84) translate(-317.5,-400)"><path d="M315.33,384.65 Q312.81,386.33 309.99,387.15 Q307.53,388.30 306.55,391.30 Q305.85,394.71 304.44,397.80 Q303.46,400.79 304.16,403.31 Q305.29,405.85 305.68,408.75 Q306.38,411.27 308.93,412.35 Q311.86,413.12 314.45,414.69 Q317.00,415.77 319.58,414.68 Q322.24,413.08 325.18,412.30 Q327.77,411.20 328.58,408.56 Q329.10,405.53 330.33,402.84 Q331.14,400.20 330.35,397.49 Q329.13,394.72 328.63,391.63 Q327.84,388.92 325.43,387.62 Q322.66,386.62 320.21,384.80 Q317.80,383.50 315.33,384.65Z" fill="#f0b9c5"/></g><path d="M317.9,391.35 C323.93724999999995,391.35 325.65,397.3625 325.65,401.9875 C325.65,407.07500000000005 322.54999999999995,409.85 317.9,409.85 C313.25,409.85 310.15,407.07500000000005 310.15,401.9875 C310.15,397.3625 311.86275,391.35 317.9,391.35Z" fill="#e0627a"/><rect x="312.65" y="397.1" width="1.9" height="7.0" rx="0.95" fill="#c9243f"/><rect x="316.95" y="397.1" width="1.9" height="7.0" rx="0.95" fill="#c9243f"/><rect x="321.25" y="397.1" width="1.9" height="7.0" rx="0.95" fill="#c9243f"/><line x1="287.35" y1="400" x2="301.1" y2="400" stroke="#3a3a3a" stroke-width="1.1"/><path d="M304.1,400 L299.90000000000003,397.7 L299.90000000000003,402.3Z" fill="#111"/><text x="273.75" y="424.8" font-size="8.2" fill="#333" text-anchor="middle" stroke="#333" stroke-width="0.03">ND</text><text x="317.5" y="424.8" font-size="8.2" fill="#333" text-anchor="middle" stroke="#333" stroke-width="0.03">R</text><path d="M364.17,384.93 Q366.69,386.47 369.51,387.19 Q371.98,388.23 372.94,391.25 Q373.62,394.68 375.01,397.78 Q375.97,400.80 375.27,403.30 Q374.14,405.82 373.76,408.71 Q373.06,411.21 370.52,412.33 Q367.61,413.14 365.04,414.75 Q362.50,415.87 359.98,414.74 Q357.39,413.10 354.51,412.28 Q351.98,411.15 351.01,408.52 Q350.32,405.50 348.90,402.83 Q347.93,400.20 348.73,397.50 Q349.97,394.74 350.46,391.65 Q351.26,388.95 353.76,387.74 Q356.64,386.83 359.19,385.10 Q361.70,383.88 364.17,384.93Z" fill="#f6d0d7" stroke="#d9485f" stroke-width="0.9"/><g transform="translate(362,400) scale(0.84) translate(-362,-400)"><path d="M364.17,384.93 Q366.69,386.47 369.51,387.19 Q371.98,388.23 372.94,391.25 Q373.62,394.68 375.01,397.78 Q375.97,400.80 375.27,403.30 Q374.14,405.82 373.76,408.71 Q373.06,411.21 370.52,412.33 Q367.61,413.14 365.04,414.75 Q362.50,415.87 359.98,414.74 Q357.39,413.10 354.51,412.28 Q351.98,411.15 351.01,408.52 Q350.32,405.50 348.90,402.83 Q347.93,400.20 348.73,397.50 Q349.97,394.74 350.46,391.65 Q351.26,388.95 353.76,387.74 Q356.64,386.83 359.19,385.10 Q361.70,383.88 364.17,384.93Z" fill="#f0b9c5"/></g><path d="M362.4,391.35 C368.43724999999995,391.35 370.15,397.3625 370.15,401.9875 C370.15,407.07500000000005 367.04999999999995,409.85 362.4,409.85 C357.75,409.85 354.65,407.07500000000005 354.65,401.9875 C354.65,397.3625 356.36275,391.35 362.4,391.35Z" fill="#e0627a"/><rect x="357.15" y="397.1" width="1.9" height="7.0" rx="0.95" fill="#c9243f"/><rect x="361.45" y="397.1" width="1.9" height="7.0" rx="0.95" fill="#c9243f"/><rect x="365.75" y="397.1" width="1.9" height="7.0" rx="0.95" fill="#c9243f"/><path d="M403.27,384.97 Q400.68,386.61 397.78,387.41 Q395.25,388.54 394.19,391.48 Q393.41,394.83 391.89,397.86 Q390.83,400.81 391.73,403.31 Q393.10,405.85 393.70,408.74 Q394.60,411.25 397.10,412.31 Q399.97,413.06 402.50,414.62 Q405.00,415.69 407.55,414.66 Q410.18,413.14 413.09,412.43 Q415.65,411.40 416.65,408.71 Q417.36,405.63 418.81,402.89 Q419.81,400.20 418.98,397.45 Q417.69,394.64 417.17,391.50 Q416.33,388.75 413.80,387.58 Q410.90,386.71 408.33,385.02 Q405.80,383.85 403.27,384.97Z" fill="#f6d0d7" stroke="#d9485f" stroke-width="0.9"/><g transform="translate(405.5,400) scale(0.84) translate(-405.5,-400)"><path d="M403.27,384.97 Q400.68,386.61 397.78,387.41 Q395.25,388.54 394.19,391.48 Q393.41,394.83 391.89,397.86 Q390.83,400.81 391.73,403.31 Q393.10,405.85 393.70,408.74 Q394.60,411.25 397.10,412.31 Q399.97,413.06 402.50,414.62 Q405.00,415.69 407.55,414.66 Q410.18,413.14 413.09,412.43 Q415.65,411.40 416.65,408.71 Q417.36,405.63 418.81,402.89 Q419.81,400.20 418.98,397.45 Q417.69,394.64 417.17,391.50 Q416.33,388.75 413.80,387.58 Q410.90,386.71 408.33,385.02 Q405.80,383.85 403.27,384.97Z" fill="#f0b9c5"/></g><path d="M405.9,391.35 C411.93724999999995,391.35 413.65,397.3625 413.65,401.9875 C413.65,407.07500000000005 410.54999999999995,409.85 405.9,409.85 C401.25,409.85 398.15,407.07500000000005 398.15,401.9875 C398.15,397.3625 399.86275,391.35 405.9,391.35Z" fill="#e0627a"/><rect x="399.55" y="397.1" width="1.9" height="7.0" rx="0.95" fill="#c9243f"/><rect x="403.15" y="397.1" width="1.9" height="7.0" rx="0.95" fill="#c9243f"/><rect x="406.75" y="397.1" width="1.9" height="7.0" rx="0.95" fill="#c9243f"/><rect x="410.35" y="397.1" width="1.9" height="7.0" rx="0.95" fill="#c9243f"/><line x1="375.6" y1="400" x2="389.1" y2="400" stroke="#3a3a3a" stroke-width="1.1"/><path d="M392.1,400 L387.90000000000003,397.7 L387.90000000000003,402.3Z" fill="#111"/><text x="362" y="424.8" font-size="8.2" fill="#333" text-anchor="middle" stroke="#333" stroke-width="0.03">ND</text><text x="405.5" y="424.8" font-size="8.2" fill="#333" text-anchor="middle" stroke="#333" stroke-width="0.03">R</text><path d="M440.28,384.88 Q442.93,386.51 445.88,387.30 Q448.46,388.42 449.41,391.39 Q450.06,394.77 451.46,397.83 Q452.41,400.80 451.49,403.35 Q450.13,405.92 449.51,408.86 Q448.60,411.41 446.17,412.50 Q443.38,413.28 440.93,414.89 Q438.50,415.99 435.97,414.82 Q433.37,413.14 430.48,412.28 Q427.95,411.11 427.11,408.49 Q426.55,405.49 425.28,402.82 Q424.44,400.20 425.12,397.52 Q426.22,394.77 426.60,391.69 Q427.28,389.01 429.78,387.75 Q432.65,386.79 435.20,385.02 Q437.70,383.76 440.28,384.88Z" fill="#d5e1ee" stroke="#4f86b8" stroke-width="0.9"/><g transform="translate(438,400) scale(0.84) translate(-438,-400)"><path d="M440.28,384.88 Q442.93,386.51 445.88,387.30 Q448.46,388.42 449.41,391.39 Q450.06,394.77 451.46,397.83 Q452.41,400.80 451.49,403.35 Q450.13,405.92 449.51,408.86 Q448.60,411.41 446.17,412.50 Q443.38,413.28 440.93,414.89 Q438.50,415.99 435.97,414.82 Q433.37,413.14 430.48,412.28 Q427.95,411.11 427.11,408.49 Q426.55,405.49 425.28,402.82 Q424.44,400.20 425.12,397.52 Q426.22,394.77 426.60,391.69 Q427.28,389.01 429.78,387.75 Q432.65,386.79 435.20,385.02 Q437.70,383.76 440.28,384.88Z" fill="#c3d4e7"/></g><path d="M438.4,391.35 C444.43724999999995,391.35 446.15,397.3625 446.15,401.9875 C446.15,407.07500000000005 443.04999999999995,409.85 438.4,409.85 C433.75,409.85 430.65,407.07500000000005 430.65,401.9875 C430.65,397.3625 432.36275,391.35 438.4,391.35Z" fill="#6592bf"/><rect x="434.90" y="397.1" width="2.2" height="7.0" rx="1.1" fill="#2766a3"/><rect x="439.70" y="397.1" width="2.2" height="7.0" rx="1.1" fill="#2766a3"/><path d="M480.26,384.87 Q477.65,386.55 474.74,387.40 Q472.20,388.57 471.32,391.50 Q470.72,394.84 469.40,397.86 Q468.52,400.80 469.32,403.37 Q470.55,405.98 471.05,408.96 Q471.85,411.54 474.28,412.58 Q477.09,413.29 479.56,414.83 Q481.99,415.86 484.60,414.76 Q487.27,413.16 490.23,412.37 Q492.84,411.27 493.62,408.61 Q494.11,405.56 495.32,402.86 Q496.10,400.20 495.33,397.42 Q494.13,394.58 493.66,391.40 Q492.89,388.62 490.46,387.44 Q487.68,386.57 485.22,384.88 Q482.80,383.70 480.26,384.87Z" fill="#f6d0d7" stroke="#d9485f" stroke-width="0.9"/><g transform="translate(482.5,400) scale(0.84) translate(-482.5,-400)"><path d="M480.26,384.87 Q477.65,386.55 474.74,387.40 Q472.20,388.57 471.32,391.50 Q470.72,394.84 469.40,397.86 Q468.52,400.80 469.32,403.37 Q470.55,405.98 471.05,408.96 Q471.85,411.54 474.28,412.58 Q477.09,413.29 479.56,414.83 Q481.99,415.86 484.60,414.76 Q487.27,413.16 490.23,412.37 Q492.84,411.27 493.62,408.61 Q494.11,405.56 495.32,402.86 Q496.10,400.20 495.33,397.42 Q494.13,394.58 493.66,391.40 Q492.89,388.62 490.46,387.44 Q487.68,386.57 485.22,384.88 Q482.80,383.70 480.26,384.87Z" fill="#f0b9c5"/></g><path d="M482.9,391.35 C488.93724999999995,391.35 490.65,397.3625 490.65,401.9875 C490.65,407.07500000000005 487.54999999999995,409.85 482.9,409.85 C478.25,409.85 475.15,407.07500000000005 475.15,401.9875 C475.15,397.3625 476.86275,391.35 482.9,391.35Z" fill="#e0627a"/><rect x="477.65" y="397.1" width="1.9" height="7.0" rx="0.95" fill="#c9243f"/><rect x="481.95" y="397.1" width="1.9" height="7.0" rx="0.95" fill="#c9243f"/><rect x="486.25" y="397.1" width="1.9" height="7.0" rx="0.95" fill="#c9243f"/><line x1="451.6" y1="400" x2="466.1" y2="400" stroke="#3a3a3a" stroke-width="1.1"/><path d="M469.1,400 L464.90000000000003,397.7 L464.90000000000003,402.3Z" fill="#111"/><text x="438" y="424.8" font-size="8.2" fill="#333" text-anchor="middle" stroke="#333" stroke-width="0.03">ND</text><text x="482.5" y="424.8" font-size="8.2" fill="#333" text-anchor="middle" stroke="#333" stroke-width="0.03">R</text><text x="29.6" y="367.4" font-size="8.8" fill="#231f20" text-anchor="start" textLength="48.6" lengthAdjust="spacingAndGlyphs" font-weight="bold" stroke="#231f20" stroke-width="0.12">Group A (8%)</text><text x="104.5" y="367.4" font-size="8.8" fill="#231f20" text-anchor="start" textLength="52.5" lengthAdjust="spacingAndGlyphs" font-weight="bold" stroke="#231f20" stroke-width="0.12">Group B (27%)</text><text x="192.5" y="367.4" font-size="8.8" fill="#231f20" text-anchor="start" textLength="53.8" lengthAdjust="spacingAndGlyphs" font-weight="bold" stroke="#231f20" stroke-width="0.12">Group C (26%)</text><text x="269.5" y="367.4" font-size="8.8" fill="#231f20" text-anchor="start" textLength="53.0" lengthAdjust="spacingAndGlyphs" font-weight="bold" stroke="#231f20" stroke-width="0.12">Group D (10%)</text><text x="357.5" y="367.4" font-size="8.8" fill="#231f20" text-anchor="start" textLength="52.5" lengthAdjust="spacingAndGlyphs" font-weight="bold" stroke="#231f20" stroke-width="0.12">Group E (11%)</text><text x="433.75" y="367.4" font-size="8.8" fill="#231f20" text-anchor="start" textLength="52.5" lengthAdjust="spacingAndGlyphs" font-weight="bold" stroke="#231f20" stroke-width="0.12">Group F (19%)</text><text x="26.3" y="382.5" font-size="8.4" fill="#444" text-anchor="start" textLength="16.8" lengthAdjust="spacingAndGlyphs" stroke="#444" stroke-width="0.03">CF%</text><text x="60.9" y="382.5" font-size="8.4" fill="#444" text-anchor="start" textLength="19.8" lengthAdjust="spacingAndGlyphs" stroke="#444" stroke-width="0.03">or CN</text><line x1="44.8" y1="373.6" x2="47.4" y2="381.0" stroke="#111" stroke-width="1.2"/><path d="M48.699999999999996,384.40000000000003 L45.699999999999996,380.5 L49.699999999999996,379.5Z" fill="#111"/><line x1="82.9" y1="373.6" x2="85.5" y2="381.0" stroke="#111" stroke-width="1.2"/><path d="M86.80000000000001,384.40000000000003 L83.80000000000001,380.5 L87.80000000000001,379.5Z" fill="#111"/><text x="120" y="382.5" font-size="8.4" fill="#444" text-anchor="start" textLength="21" lengthAdjust="spacingAndGlyphs" stroke="#444" stroke-width="0.03">Stable</text><text x="208.75" y="382.5" font-size="8.4" fill="#444" text-anchor="start" textLength="21.25" lengthAdjust="spacingAndGlyphs" stroke="#444" stroke-width="0.03">Stable</text><text x="282" y="382.5" font-size="8.4" fill="#444" text-anchor="start" textLength="17.5" lengthAdjust="spacingAndGlyphs" stroke="#444" stroke-width="0.03">CF%</text><line x1="302.1" y1="384" x2="302.5" y2="376.4" stroke="#111" stroke-width="1.2"/><path d="M302.6,373.4 L300.5,377.79999999999995 L304.7,377.79999999999995Z" fill="#111"/><text x="405.5" y="382.6" font-size="8.4" fill="#444" text-anchor="start" textLength="11" lengthAdjust="spacingAndGlyphs" stroke="#444" stroke-width="0.03">CN</text><line x1="419.40000000000003" y1="384.2" x2="419.8" y2="376.2" stroke="#111" stroke-width="1.2"/><path d="M419.90000000000003,373.2 L417.8,377.59999999999997 L422.0,377.59999999999997Z" fill="#111"/><text x="450.4" y="378.1" font-size="8.4" fill="#444" text-anchor="start" textLength="20" lengthAdjust="spacingAndGlyphs" stroke="#444" stroke-width="0.03">Newly</text><text x="445.6" y="386.5" font-size="8.4" fill="#444" text-anchor="start" textLength="29" lengthAdjust="spacingAndGlyphs" stroke="#444" stroke-width="0.03">acquired</text><ellipse cx="10.7" cy="344.3" rx="4.4" ry="5.8" fill="#d5e1ee" stroke="#4f86b8" stroke-width="0.9"/><ellipse cx="10.7" cy="344.5" rx="2.6" ry="3.7" fill="#6592bf"/><ellipse cx="110.3" cy="344.3" rx="4.4" ry="5.8" fill="#f6d0d7" stroke="#d9485f" stroke-width="0.9"/><ellipse cx="110.3" cy="344.5" rx="2.6" ry="3.7" fill="#e0627a"/><text x="19.5" y="347.1" font-size="7.7" fill="#333" text-anchor="start" textLength="81.3" lengthAdjust="spacingAndGlyphs" stroke="#333" stroke-width="0.04">Tumor cells without 1q gain</text><text x="118.75" y="347.1" font-size="7.7" fill="#333" text-anchor="start" textLength="71.25" lengthAdjust="spacingAndGlyphs" stroke="#333" stroke-width="0.04">Tumor cells with 1q gain</text><rect x="195" y="341.2" width="1.8" height="6.8" rx="0.6" fill="#d6263d"/><text x="200" y="347.1" font-size="7.7" fill="#333" text-anchor="start" textLength="56.3" lengthAdjust="spacingAndGlyphs" stroke="#333" stroke-width="0.04">Copy number of 1q</text><text x="260.8" y="347.1" font-size="7.7" fill="#333" text-anchor="start" textLength="252.8" lengthAdjust="spacingAndGlyphs" stroke="#333" stroke-width="0.04"><tspan font-weight="bold">ND</tspan>, newly diagnosed sample; <tspan font-weight="bold">R</tspan>, relapsed sample; <tspan font-weight="bold">CF</tspan>, cell fraction; <tspan font-weight="bold">CN</tspan>, copy number</text><defs><linearGradient id="gr" x1="19" y1="0" x2="497" y2="0" gradientUnits="userSpaceOnUse">
<stop offset="0" stop-color="#2b659b"/><stop offset="0.25" stop-color="#4bb3e4"/><stop offset="0.38" stop-color="#5dc0d2"/>
<stop offset="0.55" stop-color="#8fcc82"/><stop offset="0.72" stop-color="#dbd75f"/><stop offset="0.8" stop-color="#f5cf56"/>
<stop offset="0.92" stop-color="#ed8a52"/><stop offset="1" stop-color="#d8425f"/></linearGradient></defs><path d="M19.2,432.4 L490.6,432.4 L497.3,439.4 L490.6,446.3 L19.2,446.3 L26.9,439.4Z" fill="url(#gr)" stroke="#6e6e6e" stroke-width="0.8"/><text x="53.75" y="442.6" font-size="9.4" fill="#1a1a1a" text-anchor="start" textLength="70" lengthAdjust="spacingAndGlyphs" stroke="#1a1a1a" stroke-width="0.15">Superior outcome</text><text x="217.5" y="442.6" font-size="9.4" fill="#1a1a1a" text-anchor="start" textLength="82.5" lengthAdjust="spacingAndGlyphs" stroke="#1a1a1a" stroke-width="0.15">Intermedian outcome</text><text x="396.4" y="442.6" font-size="9.4" fill="#1a1a1a" text-anchor="start" textLength="63.6" lengthAdjust="spacingAndGlyphs" stroke="#1a1a1a" stroke-width="0.15">Inferior outcome</text>
</svg></body></html>
